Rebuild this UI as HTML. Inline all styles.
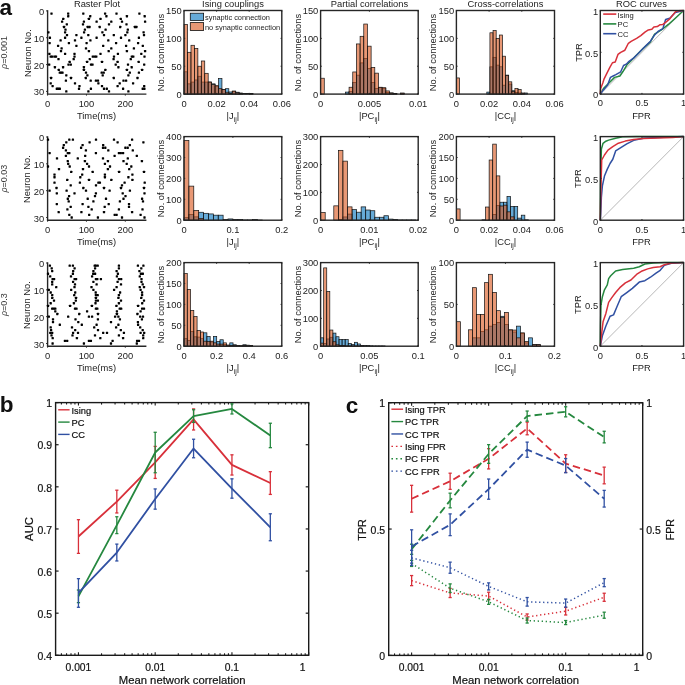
<!DOCTYPE html>
<html><head><meta charset="utf-8"><style>
html,body{margin:0;padding:0;background:#fff;width:685px;height:685px;overflow:hidden}
svg{display:block;font-family:"Liberation Sans",sans-serif;will-change:transform}
</style></head><body>
<svg width="685" height="685" viewBox="0 0 685 685">
<rect width="685" height="685" fill="#fff"/>
<text x="97.00" y="7.00" font-size="9.35" text-anchor="middle" fill="#222">Raster Plot</text>
<text x="233.00" y="7.00" font-size="9.35" text-anchor="middle" fill="#222">Ising couplings</text>
<text x="369.50" y="7.00" font-size="9.35" text-anchor="middle" fill="#222">Partial correlations</text>
<text x="505.50" y="7.00" font-size="9.35" text-anchor="middle" fill="#222">Cross-correlations</text>
<text x="641.50" y="7.00" font-size="9.35" text-anchor="middle" fill="#222">ROC curves</text>
<text x="-0.60" y="15.30" font-size="22.5" text-anchor="start" fill="#111" font-weight="bold">a</text>
<text x="-0.30" y="411.60" font-size="22.5" text-anchor="start" fill="#111" font-weight="bold">b</text>
<text x="345.80" y="412.50" font-size="22.5" text-anchor="start" fill="#111" font-weight="bold">c</text>
<text x="7.0" y="52.50" font-size="9" text-anchor="middle" fill="#3a3a3a" transform="rotate(-90 7.0 52.50)"><tspan font-style="italic">ρ</tspan>=0.001</text>
<line x1="47.60" y1="10.20" x2="47.60" y2="94.10" stroke="#262626" stroke-width="1.4"/>
<line x1="46.90" y1="94.10" x2="146.40" y2="94.10" stroke="#262626" stroke-width="1.4"/>
<line x1="46.10" y1="10.90" x2="47.60" y2="10.90" stroke="#262626" stroke-width="1"/>
<text x="44.10" y="14.90" font-size="9.35" text-anchor="end" fill="#222">0</text>
<line x1="46.10" y1="37.74" x2="47.60" y2="37.74" stroke="#262626" stroke-width="1"/>
<text x="44.10" y="41.74" font-size="9.35" text-anchor="end" fill="#222">10</text>
<line x1="46.10" y1="64.58" x2="47.60" y2="64.58" stroke="#262626" stroke-width="1"/>
<text x="44.10" y="68.58" font-size="9.35" text-anchor="end" fill="#222">20</text>
<line x1="46.10" y1="91.42" x2="47.60" y2="91.42" stroke="#262626" stroke-width="1"/>
<text x="44.10" y="95.42" font-size="9.35" text-anchor="end" fill="#222">30</text>
<line x1="47.60" y1="94.10" x2="47.60" y2="95.60" stroke="#262626" stroke-width="1"/>
<text x="47.60" y="107.30" font-size="9.35" text-anchor="middle" fill="#222">0</text>
<line x1="86.45" y1="94.10" x2="86.45" y2="95.60" stroke="#262626" stroke-width="1"/>
<text x="86.45" y="107.30" font-size="9.35" text-anchor="middle" fill="#222">100</text>
<line x1="125.30" y1="94.10" x2="125.30" y2="95.60" stroke="#262626" stroke-width="1"/>
<text x="125.30" y="107.30" font-size="9.35" text-anchor="middle" fill="#222">200</text>
<text x="96.50" y="118.90" font-size="9.35" text-anchor="middle" fill="#222">Time(ms)</text>
<text x="30.50" y="53.00" font-size="9.35" text-anchor="middle" fill="#222" transform="rotate(-90 30.5 53.0)">Neuron No.</text>
<rect x="50.35" y="12.43" width="2.3" height="2.3" rx="0.4" fill="#000"/>
<rect x="67.05" y="12.43" width="2.3" height="2.3" rx="0.4" fill="#000"/>
<rect x="67.05" y="15.12" width="2.3" height="2.3" rx="0.4" fill="#000"/>
<rect x="82.15" y="12.43" width="2.3" height="2.3" rx="0.4" fill="#000"/>
<rect x="89.05" y="15.12" width="2.3" height="2.3" rx="0.4" fill="#000"/>
<rect x="62.05" y="17.80" width="2.3" height="2.3" rx="0.4" fill="#000"/>
<rect x="87.75" y="17.80" width="2.3" height="2.3" rx="0.4" fill="#000"/>
<rect x="60.95" y="20.49" width="2.3" height="2.3" rx="0.4" fill="#000"/>
<rect x="82.75" y="20.49" width="2.3" height="2.3" rx="0.4" fill="#000"/>
<rect x="95.45" y="20.49" width="2.3" height="2.3" rx="0.4" fill="#000"/>
<rect x="65.65" y="23.17" width="2.3" height="2.3" rx="0.4" fill="#000"/>
<rect x="81.85" y="23.17" width="2.3" height="2.3" rx="0.4" fill="#000"/>
<rect x="62.85" y="25.85" width="2.3" height="2.3" rx="0.4" fill="#000"/>
<rect x="86.55" y="25.85" width="2.3" height="2.3" rx="0.4" fill="#000"/>
<rect x="88.35" y="25.85" width="2.3" height="2.3" rx="0.4" fill="#000"/>
<rect x="64.35" y="28.54" width="2.3" height="2.3" rx="0.4" fill="#000"/>
<rect x="83.75" y="28.54" width="2.3" height="2.3" rx="0.4" fill="#000"/>
<rect x="47.25" y="31.22" width="2.3" height="2.3" rx="0.4" fill="#000"/>
<rect x="63.95" y="31.22" width="2.3" height="2.3" rx="0.4" fill="#000"/>
<rect x="82.95" y="31.22" width="2.3" height="2.3" rx="0.4" fill="#000"/>
<rect x="65.85" y="33.90" width="2.3" height="2.3" rx="0.4" fill="#000"/>
<rect x="75.25" y="33.90" width="2.3" height="2.3" rx="0.4" fill="#000"/>
<rect x="87.15" y="33.90" width="2.3" height="2.3" rx="0.4" fill="#000"/>
<rect x="48.75" y="36.59" width="2.3" height="2.3" rx="0.4" fill="#000"/>
<rect x="63.95" y="36.59" width="2.3" height="2.3" rx="0.4" fill="#000"/>
<rect x="80.25" y="36.59" width="2.3" height="2.3" rx="0.4" fill="#000"/>
<rect x="95.45" y="36.59" width="2.3" height="2.3" rx="0.4" fill="#000"/>
<rect x="59.45" y="39.27" width="2.3" height="2.3" rx="0.4" fill="#000"/>
<rect x="73.85" y="39.27" width="2.3" height="2.3" rx="0.4" fill="#000"/>
<rect x="89.25" y="39.27" width="2.3" height="2.3" rx="0.4" fill="#000"/>
<rect x="48.45" y="41.96" width="2.3" height="2.3" rx="0.4" fill="#000"/>
<rect x="67.75" y="41.96" width="2.3" height="2.3" rx="0.4" fill="#000"/>
<rect x="85.45" y="41.96" width="2.3" height="2.3" rx="0.4" fill="#000"/>
<rect x="56.95" y="44.64" width="2.3" height="2.3" rx="0.4" fill="#000"/>
<rect x="75.25" y="44.64" width="2.3" height="2.3" rx="0.4" fill="#000"/>
<rect x="60.45" y="47.32" width="2.3" height="2.3" rx="0.4" fill="#000"/>
<rect x="84.85" y="47.32" width="2.3" height="2.3" rx="0.4" fill="#000"/>
<rect x="59.85" y="50.01" width="2.3" height="2.3" rx="0.4" fill="#000"/>
<rect x="87.75" y="50.01" width="2.3" height="2.3" rx="0.4" fill="#000"/>
<rect x="103.95" y="12.43" width="2.3" height="2.3" rx="0.4" fill="#000"/>
<rect x="115.35" y="12.43" width="2.3" height="2.3" rx="0.4" fill="#000"/>
<rect x="138.25" y="12.43" width="2.3" height="2.3" rx="0.4" fill="#000"/>
<rect x="105.25" y="15.12" width="2.3" height="2.3" rx="0.4" fill="#000"/>
<rect x="125.75" y="15.12" width="2.3" height="2.3" rx="0.4" fill="#000"/>
<rect x="143.55" y="15.12" width="2.3" height="2.3" rx="0.4" fill="#000"/>
<rect x="99.35" y="17.80" width="2.3" height="2.3" rx="0.4" fill="#000"/>
<rect x="119.65" y="17.80" width="2.3" height="2.3" rx="0.4" fill="#000"/>
<rect x="110.15" y="20.49" width="2.3" height="2.3" rx="0.4" fill="#000"/>
<rect x="120.85" y="20.49" width="2.3" height="2.3" rx="0.4" fill="#000"/>
<rect x="143.95" y="20.49" width="2.3" height="2.3" rx="0.4" fill="#000"/>
<rect x="107.85" y="23.17" width="2.3" height="2.3" rx="0.4" fill="#000"/>
<rect x="125.35" y="23.17" width="2.3" height="2.3" rx="0.4" fill="#000"/>
<rect x="98.55" y="25.85" width="2.3" height="2.3" rx="0.4" fill="#000"/>
<rect x="119.05" y="25.85" width="2.3" height="2.3" rx="0.4" fill="#000"/>
<rect x="133.75" y="25.85" width="2.3" height="2.3" rx="0.4" fill="#000"/>
<rect x="135.25" y="25.85" width="2.3" height="2.3" rx="0.4" fill="#000"/>
<rect x="104.45" y="28.54" width="2.3" height="2.3" rx="0.4" fill="#000"/>
<rect x="126.65" y="28.54" width="2.3" height="2.3" rx="0.4" fill="#000"/>
<rect x="101.25" y="31.22" width="2.3" height="2.3" rx="0.4" fill="#000"/>
<rect x="126.15" y="31.22" width="2.3" height="2.3" rx="0.4" fill="#000"/>
<rect x="142.45" y="31.22" width="2.3" height="2.3" rx="0.4" fill="#000"/>
<rect x="102.85" y="33.90" width="2.3" height="2.3" rx="0.4" fill="#000"/>
<rect x="112.65" y="33.90" width="2.3" height="2.3" rx="0.4" fill="#000"/>
<rect x="124.25" y="33.90" width="2.3" height="2.3" rx="0.4" fill="#000"/>
<rect x="142.85" y="33.90" width="2.3" height="2.3" rx="0.4" fill="#000"/>
<rect x="119.85" y="36.59" width="2.3" height="2.3" rx="0.4" fill="#000"/>
<rect x="137.75" y="36.59" width="2.3" height="2.3" rx="0.4" fill="#000"/>
<rect x="107.15" y="39.27" width="2.3" height="2.3" rx="0.4" fill="#000"/>
<rect x="128.05" y="39.27" width="2.3" height="2.3" rx="0.4" fill="#000"/>
<rect x="114.95" y="41.96" width="2.3" height="2.3" rx="0.4" fill="#000"/>
<rect x="136.95" y="41.96" width="2.3" height="2.3" rx="0.4" fill="#000"/>
<rect x="102.05" y="44.64" width="2.3" height="2.3" rx="0.4" fill="#000"/>
<rect x="124.95" y="44.64" width="2.3" height="2.3" rx="0.4" fill="#000"/>
<rect x="141.65" y="44.64" width="2.3" height="2.3" rx="0.4" fill="#000"/>
<rect x="110.15" y="47.32" width="2.3" height="2.3" rx="0.4" fill="#000"/>
<rect x="132.75" y="47.32" width="2.3" height="2.3" rx="0.4" fill="#000"/>
<rect x="107.55" y="50.01" width="2.3" height="2.3" rx="0.4" fill="#000"/>
<rect x="125.75" y="50.01" width="2.3" height="2.3" rx="0.4" fill="#000"/>
<rect x="143.95" y="50.01" width="2.3" height="2.3" rx="0.4" fill="#000"/>
<rect x="48.25" y="52.69" width="2.3" height="2.3" rx="0.4" fill="#000"/>
<rect x="63.95" y="52.69" width="2.3" height="2.3" rx="0.4" fill="#000"/>
<rect x="73.35" y="52.69" width="2.3" height="2.3" rx="0.4" fill="#000"/>
<rect x="49.55" y="55.38" width="2.3" height="2.3" rx="0.4" fill="#000"/>
<rect x="51.05" y="55.38" width="2.3" height="2.3" rx="0.4" fill="#000"/>
<rect x="53.35" y="55.38" width="2.3" height="2.3" rx="0.4" fill="#000"/>
<rect x="54.85" y="55.38" width="2.3" height="2.3" rx="0.4" fill="#000"/>
<rect x="73.35" y="55.38" width="2.3" height="2.3" rx="0.4" fill="#000"/>
<rect x="91.65" y="55.38" width="2.3" height="2.3" rx="0.4" fill="#000"/>
<rect x="93.55" y="55.38" width="2.3" height="2.3" rx="0.4" fill="#000"/>
<rect x="95.15" y="55.38" width="2.3" height="2.3" rx="0.4" fill="#000"/>
<rect x="57.35" y="58.06" width="2.3" height="2.3" rx="0.4" fill="#000"/>
<rect x="72.55" y="58.06" width="2.3" height="2.3" rx="0.4" fill="#000"/>
<rect x="88.65" y="58.06" width="2.3" height="2.3" rx="0.4" fill="#000"/>
<rect x="68.55" y="60.74" width="2.3" height="2.3" rx="0.4" fill="#000"/>
<rect x="85.95" y="60.74" width="2.3" height="2.3" rx="0.4" fill="#000"/>
<rect x="48.05" y="63.43" width="2.3" height="2.3" rx="0.4" fill="#000"/>
<rect x="67.35" y="63.43" width="2.3" height="2.3" rx="0.4" fill="#000"/>
<rect x="69.65" y="63.43" width="2.3" height="2.3" rx="0.4" fill="#000"/>
<rect x="89.85" y="63.43" width="2.3" height="2.3" rx="0.4" fill="#000"/>
<rect x="91.35" y="63.43" width="2.3" height="2.3" rx="0.4" fill="#000"/>
<rect x="53.75" y="66.11" width="2.3" height="2.3" rx="0.4" fill="#000"/>
<rect x="61.95" y="66.11" width="2.3" height="2.3" rx="0.4" fill="#000"/>
<rect x="82.75" y="66.11" width="2.3" height="2.3" rx="0.4" fill="#000"/>
<rect x="57.65" y="68.80" width="2.3" height="2.3" rx="0.4" fill="#000"/>
<rect x="82.75" y="68.80" width="2.3" height="2.3" rx="0.4" fill="#000"/>
<rect x="58.65" y="71.48" width="2.3" height="2.3" rx="0.4" fill="#000"/>
<rect x="60.15" y="71.48" width="2.3" height="2.3" rx="0.4" fill="#000"/>
<rect x="61.35" y="71.48" width="2.3" height="2.3" rx="0.4" fill="#000"/>
<rect x="84.85" y="71.48" width="2.3" height="2.3" rx="0.4" fill="#000"/>
<rect x="65.15" y="74.16" width="2.3" height="2.3" rx="0.4" fill="#000"/>
<rect x="86.25" y="74.16" width="2.3" height="2.3" rx="0.4" fill="#000"/>
<rect x="49.95" y="76.85" width="2.3" height="2.3" rx="0.4" fill="#000"/>
<rect x="69.85" y="76.85" width="2.3" height="2.3" rx="0.4" fill="#000"/>
<rect x="84.65" y="76.85" width="2.3" height="2.3" rx="0.4" fill="#000"/>
<rect x="64.75" y="79.53" width="2.3" height="2.3" rx="0.4" fill="#000"/>
<rect x="89.55" y="79.53" width="2.3" height="2.3" rx="0.4" fill="#000"/>
<rect x="94.75" y="79.53" width="2.3" height="2.3" rx="0.4" fill="#000"/>
<rect x="49.55" y="82.21" width="2.3" height="2.3" rx="0.4" fill="#000"/>
<rect x="73.85" y="82.21" width="2.3" height="2.3" rx="0.4" fill="#000"/>
<rect x="51.45" y="84.90" width="2.3" height="2.3" rx="0.4" fill="#000"/>
<rect x="78.35" y="84.90" width="2.3" height="2.3" rx="0.4" fill="#000"/>
<rect x="55.65" y="87.58" width="2.3" height="2.3" rx="0.4" fill="#000"/>
<rect x="57.15" y="87.58" width="2.3" height="2.3" rx="0.4" fill="#000"/>
<rect x="58.65" y="87.58" width="2.3" height="2.3" rx="0.4" fill="#000"/>
<rect x="77.85" y="87.58" width="2.3" height="2.3" rx="0.4" fill="#000"/>
<rect x="89.75" y="87.58" width="2.3" height="2.3" rx="0.4" fill="#000"/>
<rect x="65.15" y="90.27" width="2.3" height="2.3" rx="0.4" fill="#000"/>
<rect x="87.25" y="90.27" width="2.3" height="2.3" rx="0.4" fill="#000"/>
<rect x="99.35" y="52.69" width="2.3" height="2.3" rx="0.4" fill="#000"/>
<rect x="116.75" y="52.69" width="2.3" height="2.3" rx="0.4" fill="#000"/>
<rect x="140.15" y="52.69" width="2.3" height="2.3" rx="0.4" fill="#000"/>
<rect x="112.85" y="55.38" width="2.3" height="2.3" rx="0.4" fill="#000"/>
<rect x="130.65" y="55.38" width="2.3" height="2.3" rx="0.4" fill="#000"/>
<rect x="132.15" y="55.38" width="2.3" height="2.3" rx="0.4" fill="#000"/>
<rect x="143.35" y="55.38" width="2.3" height="2.3" rx="0.4" fill="#000"/>
<rect x="112.45" y="58.06" width="2.3" height="2.3" rx="0.4" fill="#000"/>
<rect x="129.65" y="58.06" width="2.3" height="2.3" rx="0.4" fill="#000"/>
<rect x="100.85" y="60.74" width="2.3" height="2.3" rx="0.4" fill="#000"/>
<rect x="116.45" y="60.74" width="2.3" height="2.3" rx="0.4" fill="#000"/>
<rect x="137.55" y="60.74" width="2.3" height="2.3" rx="0.4" fill="#000"/>
<rect x="114.55" y="63.43" width="2.3" height="2.3" rx="0.4" fill="#000"/>
<rect x="126.85" y="63.43" width="2.3" height="2.3" rx="0.4" fill="#000"/>
<rect x="143.05" y="63.43" width="2.3" height="2.3" rx="0.4" fill="#000"/>
<rect x="117.25" y="66.11" width="2.3" height="2.3" rx="0.4" fill="#000"/>
<rect x="130.55" y="66.11" width="2.3" height="2.3" rx="0.4" fill="#000"/>
<rect x="104.15" y="68.80" width="2.3" height="2.3" rx="0.4" fill="#000"/>
<rect x="125.75" y="68.80" width="2.3" height="2.3" rx="0.4" fill="#000"/>
<rect x="140.95" y="68.80" width="2.3" height="2.3" rx="0.4" fill="#000"/>
<rect x="100.55" y="71.48" width="2.3" height="2.3" rx="0.4" fill="#000"/>
<rect x="102.55" y="71.48" width="2.3" height="2.3" rx="0.4" fill="#000"/>
<rect x="128.65" y="71.48" width="2.3" height="2.3" rx="0.4" fill="#000"/>
<rect x="137.75" y="71.48" width="2.3" height="2.3" rx="0.4" fill="#000"/>
<rect x="101.55" y="74.16" width="2.3" height="2.3" rx="0.4" fill="#000"/>
<rect x="127.25" y="74.16" width="2.3" height="2.3" rx="0.4" fill="#000"/>
<rect x="112.65" y="76.85" width="2.3" height="2.3" rx="0.4" fill="#000"/>
<rect x="136.35" y="76.85" width="2.3" height="2.3" rx="0.4" fill="#000"/>
<rect x="96.85" y="79.53" width="2.3" height="2.3" rx="0.4" fill="#000"/>
<rect x="122.35" y="79.53" width="2.3" height="2.3" rx="0.4" fill="#000"/>
<rect x="124.95" y="79.53" width="2.3" height="2.3" rx="0.4" fill="#000"/>
<rect x="97.25" y="82.21" width="2.3" height="2.3" rx="0.4" fill="#000"/>
<rect x="118.55" y="82.21" width="2.3" height="2.3" rx="0.4" fill="#000"/>
<rect x="131.95" y="82.21" width="2.3" height="2.3" rx="0.4" fill="#000"/>
<rect x="100.85" y="84.90" width="2.3" height="2.3" rx="0.4" fill="#000"/>
<rect x="116.45" y="84.90" width="2.3" height="2.3" rx="0.4" fill="#000"/>
<rect x="143.05" y="84.90" width="2.3" height="2.3" rx="0.4" fill="#000"/>
<rect x="102.85" y="87.58" width="2.3" height="2.3" rx="0.4" fill="#000"/>
<rect x="105.65" y="87.58" width="2.3" height="2.3" rx="0.4" fill="#000"/>
<rect x="121.95" y="87.58" width="2.3" height="2.3" rx="0.4" fill="#000"/>
<rect x="141.55" y="87.58" width="2.3" height="2.3" rx="0.4" fill="#000"/>
<rect x="143.25" y="87.58" width="2.3" height="2.3" rx="0.4" fill="#000"/>
<rect x="107.85" y="90.27" width="2.3" height="2.3" rx="0.4" fill="#000"/>
<rect x="127.25" y="90.27" width="2.3" height="2.3" rx="0.4" fill="#000"/>
<line x1="600.30" y1="94.10" x2="683.60" y2="10.50" stroke="#999" stroke-width="0.7"/>
<polyline points="600.30,94.10 603.47,88.50 608.96,82.98 614.54,77.38 620.04,75.96 622.79,71.78 626.96,64.84 631.12,60.66 636.62,55.06 643.53,48.12 650.45,41.85 654.61,34.16 661.44,29.98 668.36,24.46 675.27,18.19 683.60,10.50" fill="none" stroke="#25883f" stroke-width="1.5" stroke-linejoin="round"/>
<polyline points="600.30,94.10 603.47,89.92 607.63,85.07 610.38,77.38 613.13,75.96 615.88,74.62 620.71,71.78 623.54,65.51 626.29,64.17 629.04,61.33 633.87,57.90 638.03,53.72 642.12,49.54 646.28,45.36 650.45,41.18 654.61,34.91 658.03,31.40 662.86,28.64 665.61,19.53 669.77,18.19 675.27,12.59 683.60,10.50" fill="none" stroke="#3050a2" stroke-width="1.5" stroke-linejoin="round"/>
<polyline points="600.30,94.10 600.72,88.50 602.80,82.98 604.13,78.80 606.96,73.20 609.71,67.60 612.46,62.75 615.21,62.08 617.96,54.39 620.71,52.30 624.87,50.21 628.37,43.27 631.12,41.43 636.62,38.34 640.78,35.58 644.95,32.07 648.36,29.98 651.86,29.31 653.86,26.97 657.36,26.55 660.11,24.71 662.86,24.46 665.61,22.37 669.77,18.86 675.27,11.92 678.10,10.75 683.60,10.50" fill="none" stroke="#d8303a" stroke-width="1.5" stroke-linejoin="round"/>
<rect x="600.30" y="10.50" width="83.30" height="83.60" fill="none" stroke="#262626" stroke-width="1.4"/>
<line x1="600.30" y1="94.10" x2="601.50" y2="94.10" stroke="#262626" stroke-width="1"/>
<line x1="682.40" y1="94.10" x2="683.60" y2="94.10" stroke="#262626" stroke-width="1"/>
<line x1="600.30" y1="94.10" x2="600.30" y2="92.90" stroke="#262626" stroke-width="1"/>
<line x1="600.30" y1="10.50" x2="600.30" y2="11.70" stroke="#262626" stroke-width="1"/>
<text x="598.10" y="98.40" font-size="9.35" text-anchor="end" fill="#222">0</text>
<text x="600.30" y="106.40" font-size="9.35" text-anchor="middle" fill="#222">0</text>
<line x1="600.30" y1="52.30" x2="601.50" y2="52.30" stroke="#262626" stroke-width="1"/>
<line x1="682.40" y1="52.30" x2="683.60" y2="52.30" stroke="#262626" stroke-width="1"/>
<line x1="641.95" y1="94.10" x2="641.95" y2="92.90" stroke="#262626" stroke-width="1"/>
<line x1="641.95" y1="10.50" x2="641.95" y2="11.70" stroke="#262626" stroke-width="1"/>
<text x="598.10" y="56.60" font-size="9.35" text-anchor="end" fill="#222">0.5</text>
<text x="641.95" y="106.40" font-size="9.35" text-anchor="middle" fill="#222">0.5</text>
<line x1="600.30" y1="10.50" x2="601.50" y2="10.50" stroke="#262626" stroke-width="1"/>
<line x1="682.40" y1="10.50" x2="683.60" y2="10.50" stroke="#262626" stroke-width="1"/>
<line x1="683.60" y1="94.10" x2="683.60" y2="92.90" stroke="#262626" stroke-width="1"/>
<line x1="683.60" y1="10.50" x2="683.60" y2="11.70" stroke="#262626" stroke-width="1"/>
<text x="598.10" y="14.80" font-size="9.35" text-anchor="end" fill="#222">1</text>
<text x="683.60" y="106.40" font-size="9.35" text-anchor="middle" fill="#222">1</text>
<text x="641.50" y="118.60" font-size="9.35" text-anchor="middle" fill="#222">FPR</text>
<text x="581.50" y="52.50" font-size="9.35" text-anchor="middle" fill="#222" transform="rotate(-90 581.5 52.5)">TPR</text>
<line x1="603.20" y1="14.10" x2="616.30" y2="14.10" stroke="#d8303a" stroke-width="1.6"/>
<text x="617.60" y="17.50" font-size="7.6" text-anchor="start" fill="#222">Ising</text>
<line x1="603.20" y1="23.90" x2="616.30" y2="23.90" stroke="#25883f" stroke-width="1.6"/>
<text x="617.60" y="27.30" font-size="7.6" text-anchor="start" fill="#222">PC</text>
<line x1="603.20" y1="33.70" x2="616.30" y2="33.70" stroke="#3050a2" stroke-width="1.6"/>
<text x="617.60" y="37.10" font-size="7.6" text-anchor="start" fill="#222">CC</text>
<text x="7.0" y="178.60" font-size="9" text-anchor="middle" fill="#3a3a3a" transform="rotate(-90 7.0 178.60)"><tspan font-style="italic">ρ</tspan>=0.03</text>
<line x1="47.60" y1="136.30" x2="47.60" y2="220.20" stroke="#262626" stroke-width="1.4"/>
<line x1="46.90" y1="220.20" x2="146.40" y2="220.20" stroke="#262626" stroke-width="1.4"/>
<line x1="46.10" y1="137.00" x2="47.60" y2="137.00" stroke="#262626" stroke-width="1"/>
<text x="44.10" y="141.00" font-size="9.35" text-anchor="end" fill="#222">0</text>
<line x1="46.10" y1="163.84" x2="47.60" y2="163.84" stroke="#262626" stroke-width="1"/>
<text x="44.10" y="167.84" font-size="9.35" text-anchor="end" fill="#222">10</text>
<line x1="46.10" y1="190.68" x2="47.60" y2="190.68" stroke="#262626" stroke-width="1"/>
<text x="44.10" y="194.68" font-size="9.35" text-anchor="end" fill="#222">20</text>
<line x1="46.10" y1="217.52" x2="47.60" y2="217.52" stroke="#262626" stroke-width="1"/>
<text x="44.10" y="221.52" font-size="9.35" text-anchor="end" fill="#222">30</text>
<line x1="47.60" y1="220.20" x2="47.60" y2="221.70" stroke="#262626" stroke-width="1"/>
<text x="47.60" y="233.40" font-size="9.35" text-anchor="middle" fill="#222">0</text>
<line x1="86.45" y1="220.20" x2="86.45" y2="221.70" stroke="#262626" stroke-width="1"/>
<text x="86.45" y="233.40" font-size="9.35" text-anchor="middle" fill="#222">100</text>
<line x1="125.30" y1="220.20" x2="125.30" y2="221.70" stroke="#262626" stroke-width="1"/>
<text x="125.30" y="233.40" font-size="9.35" text-anchor="middle" fill="#222">200</text>
<text x="96.50" y="245.00" font-size="9.35" text-anchor="middle" fill="#222">Time(ms)</text>
<text x="30.50" y="179.10" font-size="9.35" text-anchor="middle" fill="#222" transform="rotate(-90 30.5 179.1)">Neuron No.</text>
<rect x="46.85" y="138.53" width="2.3" height="2.3" rx="0.4" fill="#000"/>
<rect x="68.15" y="138.53" width="2.3" height="2.3" rx="0.4" fill="#000"/>
<rect x="71.75" y="138.53" width="2.3" height="2.3" rx="0.4" fill="#000"/>
<rect x="94.85" y="138.53" width="2.3" height="2.3" rx="0.4" fill="#000"/>
<rect x="65.15" y="141.22" width="2.3" height="2.3" rx="0.4" fill="#000"/>
<rect x="88.45" y="141.22" width="2.3" height="2.3" rx="0.4" fill="#000"/>
<rect x="62.65" y="143.90" width="2.3" height="2.3" rx="0.4" fill="#000"/>
<rect x="81.45" y="143.90" width="2.3" height="2.3" rx="0.4" fill="#000"/>
<rect x="61.95" y="146.59" width="2.3" height="2.3" rx="0.4" fill="#000"/>
<rect x="79.95" y="146.59" width="2.3" height="2.3" rx="0.4" fill="#000"/>
<rect x="64.75" y="149.27" width="2.3" height="2.3" rx="0.4" fill="#000"/>
<rect x="84.75" y="149.27" width="2.3" height="2.3" rx="0.4" fill="#000"/>
<rect x="48.45" y="151.95" width="2.3" height="2.3" rx="0.4" fill="#000"/>
<rect x="66.65" y="151.95" width="2.3" height="2.3" rx="0.4" fill="#000"/>
<rect x="68.15" y="151.95" width="2.3" height="2.3" rx="0.4" fill="#000"/>
<rect x="94.75" y="151.95" width="2.3" height="2.3" rx="0.4" fill="#000"/>
<rect x="64.75" y="154.64" width="2.3" height="2.3" rx="0.4" fill="#000"/>
<rect x="84.05" y="154.64" width="2.3" height="2.3" rx="0.4" fill="#000"/>
<rect x="55.85" y="157.32" width="2.3" height="2.3" rx="0.4" fill="#000"/>
<rect x="76.65" y="157.32" width="2.3" height="2.3" rx="0.4" fill="#000"/>
<rect x="66.65" y="160.00" width="2.3" height="2.3" rx="0.4" fill="#000"/>
<rect x="83.75" y="160.00" width="2.3" height="2.3" rx="0.4" fill="#000"/>
<rect x="67.05" y="162.69" width="2.3" height="2.3" rx="0.4" fill="#000"/>
<rect x="85.95" y="162.69" width="2.3" height="2.3" rx="0.4" fill="#000"/>
<rect x="46.85" y="165.37" width="2.3" height="2.3" rx="0.4" fill="#000"/>
<rect x="68.55" y="165.37" width="2.3" height="2.3" rx="0.4" fill="#000"/>
<rect x="87.85" y="165.37" width="2.3" height="2.3" rx="0.4" fill="#000"/>
<rect x="57.85" y="168.06" width="2.3" height="2.3" rx="0.4" fill="#000"/>
<rect x="81.85" y="168.06" width="2.3" height="2.3" rx="0.4" fill="#000"/>
<rect x="70.05" y="170.74" width="2.3" height="2.3" rx="0.4" fill="#000"/>
<rect x="91.55" y="170.74" width="2.3" height="2.3" rx="0.4" fill="#000"/>
<rect x="53.35" y="173.42" width="2.3" height="2.3" rx="0.4" fill="#000"/>
<rect x="81.05" y="173.42" width="2.3" height="2.3" rx="0.4" fill="#000"/>
<rect x="53.35" y="176.11" width="2.3" height="2.3" rx="0.4" fill="#000"/>
<rect x="79.15" y="176.11" width="2.3" height="2.3" rx="0.4" fill="#000"/>
<rect x="112.85" y="138.53" width="2.3" height="2.3" rx="0.4" fill="#000"/>
<rect x="130.95" y="138.53" width="2.3" height="2.3" rx="0.4" fill="#000"/>
<rect x="116.45" y="141.22" width="2.3" height="2.3" rx="0.4" fill="#000"/>
<rect x="142.25" y="141.22" width="2.3" height="2.3" rx="0.4" fill="#000"/>
<rect x="102.05" y="143.90" width="2.3" height="2.3" rx="0.4" fill="#000"/>
<rect x="128.65" y="143.90" width="2.3" height="2.3" rx="0.4" fill="#000"/>
<rect x="101.85" y="146.59" width="2.3" height="2.3" rx="0.4" fill="#000"/>
<rect x="104.15" y="146.59" width="2.3" height="2.3" rx="0.4" fill="#000"/>
<rect x="124.25" y="146.59" width="2.3" height="2.3" rx="0.4" fill="#000"/>
<rect x="126.55" y="146.59" width="2.3" height="2.3" rx="0.4" fill="#000"/>
<rect x="107.15" y="149.27" width="2.3" height="2.3" rx="0.4" fill="#000"/>
<rect x="131.65" y="149.27" width="2.3" height="2.3" rx="0.4" fill="#000"/>
<rect x="117.75" y="151.95" width="2.3" height="2.3" rx="0.4" fill="#000"/>
<rect x="119.65" y="151.95" width="2.3" height="2.3" rx="0.4" fill="#000"/>
<rect x="121.95" y="151.95" width="2.3" height="2.3" rx="0.4" fill="#000"/>
<rect x="113.45" y="154.64" width="2.3" height="2.3" rx="0.4" fill="#000"/>
<rect x="135.65" y="154.64" width="2.3" height="2.3" rx="0.4" fill="#000"/>
<rect x="101.85" y="157.32" width="2.3" height="2.3" rx="0.4" fill="#000"/>
<rect x="126.65" y="157.32" width="2.3" height="2.3" rx="0.4" fill="#000"/>
<rect x="106.75" y="160.00" width="2.3" height="2.3" rx="0.4" fill="#000"/>
<rect x="122.35" y="160.00" width="2.3" height="2.3" rx="0.4" fill="#000"/>
<rect x="140.75" y="160.00" width="2.3" height="2.3" rx="0.4" fill="#000"/>
<rect x="103.75" y="162.69" width="2.3" height="2.3" rx="0.4" fill="#000"/>
<rect x="125.55" y="162.69" width="2.3" height="2.3" rx="0.4" fill="#000"/>
<rect x="108.85" y="165.37" width="2.3" height="2.3" rx="0.4" fill="#000"/>
<rect x="130.15" y="165.37" width="2.3" height="2.3" rx="0.4" fill="#000"/>
<rect x="106.75" y="168.06" width="2.3" height="2.3" rx="0.4" fill="#000"/>
<rect x="128.05" y="168.06" width="2.3" height="2.3" rx="0.4" fill="#000"/>
<rect x="117.95" y="170.74" width="2.3" height="2.3" rx="0.4" fill="#000"/>
<rect x="142.85" y="170.74" width="2.3" height="2.3" rx="0.4" fill="#000"/>
<rect x="103.75" y="173.42" width="2.3" height="2.3" rx="0.4" fill="#000"/>
<rect x="131.25" y="173.42" width="2.3" height="2.3" rx="0.4" fill="#000"/>
<rect x="103.75" y="176.11" width="2.3" height="2.3" rx="0.4" fill="#000"/>
<rect x="127.25" y="176.11" width="2.3" height="2.3" rx="0.4" fill="#000"/>
<rect x="66.05" y="178.79" width="2.3" height="2.3" rx="0.4" fill="#000"/>
<rect x="87.85" y="178.79" width="2.3" height="2.3" rx="0.4" fill="#000"/>
<rect x="53.35" y="181.48" width="2.3" height="2.3" rx="0.4" fill="#000"/>
<rect x="78.75" y="181.48" width="2.3" height="2.3" rx="0.4" fill="#000"/>
<rect x="69.55" y="184.16" width="2.3" height="2.3" rx="0.4" fill="#000"/>
<rect x="94.85" y="184.16" width="2.3" height="2.3" rx="0.4" fill="#000"/>
<rect x="55.35" y="186.84" width="2.3" height="2.3" rx="0.4" fill="#000"/>
<rect x="82.15" y="186.84" width="2.3" height="2.3" rx="0.4" fill="#000"/>
<rect x="48.45" y="189.53" width="2.3" height="2.3" rx="0.4" fill="#000"/>
<rect x="65.45" y="189.53" width="2.3" height="2.3" rx="0.4" fill="#000"/>
<rect x="84.85" y="189.53" width="2.3" height="2.3" rx="0.4" fill="#000"/>
<rect x="55.65" y="192.21" width="2.3" height="2.3" rx="0.4" fill="#000"/>
<rect x="73.35" y="192.21" width="2.3" height="2.3" rx="0.4" fill="#000"/>
<rect x="94.75" y="192.21" width="2.3" height="2.3" rx="0.4" fill="#000"/>
<rect x="67.95" y="194.90" width="2.3" height="2.3" rx="0.4" fill="#000"/>
<rect x="93.85" y="194.90" width="2.3" height="2.3" rx="0.4" fill="#000"/>
<rect x="66.65" y="197.58" width="2.3" height="2.3" rx="0.4" fill="#000"/>
<rect x="86.55" y="197.58" width="2.3" height="2.3" rx="0.4" fill="#000"/>
<rect x="67.55" y="200.26" width="2.3" height="2.3" rx="0.4" fill="#000"/>
<rect x="92.25" y="200.26" width="2.3" height="2.3" rx="0.4" fill="#000"/>
<rect x="55.65" y="202.95" width="2.3" height="2.3" rx="0.4" fill="#000"/>
<rect x="81.45" y="202.95" width="2.3" height="2.3" rx="0.4" fill="#000"/>
<rect x="69.55" y="205.63" width="2.3" height="2.3" rx="0.4" fill="#000"/>
<rect x="87.25" y="205.63" width="2.3" height="2.3" rx="0.4" fill="#000"/>
<rect x="66.25" y="208.31" width="2.3" height="2.3" rx="0.4" fill="#000"/>
<rect x="90.55" y="208.31" width="2.3" height="2.3" rx="0.4" fill="#000"/>
<rect x="57.55" y="211.00" width="2.3" height="2.3" rx="0.4" fill="#000"/>
<rect x="80.25" y="211.00" width="2.3" height="2.3" rx="0.4" fill="#000"/>
<rect x="68.15" y="213.68" width="2.3" height="2.3" rx="0.4" fill="#000"/>
<rect x="88.05" y="213.68" width="2.3" height="2.3" rx="0.4" fill="#000"/>
<rect x="70.55" y="216.37" width="2.3" height="2.3" rx="0.4" fill="#000"/>
<rect x="110.15" y="178.79" width="2.3" height="2.3" rx="0.4" fill="#000"/>
<rect x="131.25" y="178.79" width="2.3" height="2.3" rx="0.4" fill="#000"/>
<rect x="97.25" y="181.48" width="2.3" height="2.3" rx="0.4" fill="#000"/>
<rect x="98.75" y="181.48" width="2.3" height="2.3" rx="0.4" fill="#000"/>
<rect x="123.45" y="181.48" width="2.3" height="2.3" rx="0.4" fill="#000"/>
<rect x="143.55" y="181.48" width="2.3" height="2.3" rx="0.4" fill="#000"/>
<rect x="120.85" y="184.16" width="2.3" height="2.3" rx="0.4" fill="#000"/>
<rect x="102.85" y="186.84" width="2.3" height="2.3" rx="0.4" fill="#000"/>
<rect x="119.85" y="186.84" width="2.3" height="2.3" rx="0.4" fill="#000"/>
<rect x="142.85" y="186.84" width="2.3" height="2.3" rx="0.4" fill="#000"/>
<rect x="108.45" y="189.53" width="2.3" height="2.3" rx="0.4" fill="#000"/>
<rect x="128.75" y="189.53" width="2.3" height="2.3" rx="0.4" fill="#000"/>
<rect x="121.55" y="192.21" width="2.3" height="2.3" rx="0.4" fill="#000"/>
<rect x="143.35" y="192.21" width="2.3" height="2.3" rx="0.4" fill="#000"/>
<rect x="124.35" y="194.90" width="2.3" height="2.3" rx="0.4" fill="#000"/>
<rect x="104.85" y="197.58" width="2.3" height="2.3" rx="0.4" fill="#000"/>
<rect x="122.35" y="197.58" width="2.3" height="2.3" rx="0.4" fill="#000"/>
<rect x="140.95" y="197.58" width="2.3" height="2.3" rx="0.4" fill="#000"/>
<rect x="118.75" y="200.26" width="2.3" height="2.3" rx="0.4" fill="#000"/>
<rect x="141.85" y="200.26" width="2.3" height="2.3" rx="0.4" fill="#000"/>
<rect x="107.55" y="202.95" width="2.3" height="2.3" rx="0.4" fill="#000"/>
<rect x="127.85" y="202.95" width="2.3" height="2.3" rx="0.4" fill="#000"/>
<rect x="103.55" y="205.63" width="2.3" height="2.3" rx="0.4" fill="#000"/>
<rect x="127.85" y="205.63" width="2.3" height="2.3" rx="0.4" fill="#000"/>
<rect x="117.75" y="208.31" width="2.3" height="2.3" rx="0.4" fill="#000"/>
<rect x="141.35" y="208.31" width="2.3" height="2.3" rx="0.4" fill="#000"/>
<rect x="102.85" y="211.00" width="2.3" height="2.3" rx="0.4" fill="#000"/>
<rect x="130.95" y="211.00" width="2.3" height="2.3" rx="0.4" fill="#000"/>
<rect x="113.55" y="213.68" width="2.3" height="2.3" rx="0.4" fill="#000"/>
<rect x="115.45" y="213.68" width="2.3" height="2.3" rx="0.4" fill="#000"/>
<rect x="139.45" y="213.68" width="2.3" height="2.3" rx="0.4" fill="#000"/>
<rect x="96.75" y="216.37" width="2.3" height="2.3" rx="0.4" fill="#000"/>
<rect x="120.85" y="216.37" width="2.3" height="2.3" rx="0.4" fill="#000"/>
<rect x="143.35" y="216.37" width="2.3" height="2.3" rx="0.4" fill="#000"/>
<line x1="600.30" y1="220.20" x2="683.60" y2="136.60" stroke="#999" stroke-width="0.7"/>
<polyline points="600.30,220.20 600.55,185.92 600.97,165.02 601.38,149.14 603.05,143.29 605.88,141.20 608.63,140.11 615.63,138.27 622.62,136.85 636.54,136.60 683.60,136.60" fill="none" stroke="#25883f" stroke-width="1.5" stroke-linejoin="round"/>
<polyline points="600.30,220.20 600.72,213.93 601.38,197.13 602.38,185.92 604.46,176.06 607.30,169.12 610.05,163.52 612.79,159.26 615.63,150.90 621.21,147.38 626.79,143.87 633.70,140.36 643.45,138.27 657.44,137.60 683.60,136.60" fill="none" stroke="#3050a2" stroke-width="1.5" stroke-linejoin="round"/>
<polyline points="600.30,220.20 600.97,185.92 601.72,160.01 604.46,154.99 607.96,150.14 612.79,146.63 618.38,143.20 625.29,141.11 633.62,139.44 643.45,138.52 657.44,138.02 672.77,137.60 683.60,136.60" fill="none" stroke="#d8303a" stroke-width="1.5" stroke-linejoin="round"/>
<rect x="600.30" y="136.60" width="83.30" height="83.60" fill="none" stroke="#262626" stroke-width="1.4"/>
<line x1="600.30" y1="220.20" x2="601.50" y2="220.20" stroke="#262626" stroke-width="1"/>
<line x1="682.40" y1="220.20" x2="683.60" y2="220.20" stroke="#262626" stroke-width="1"/>
<line x1="600.30" y1="220.20" x2="600.30" y2="219.00" stroke="#262626" stroke-width="1"/>
<line x1="600.30" y1="136.60" x2="600.30" y2="137.80" stroke="#262626" stroke-width="1"/>
<text x="598.10" y="224.50" font-size="9.35" text-anchor="end" fill="#222">0</text>
<text x="600.30" y="232.50" font-size="9.35" text-anchor="middle" fill="#222">0</text>
<line x1="600.30" y1="178.40" x2="601.50" y2="178.40" stroke="#262626" stroke-width="1"/>
<line x1="682.40" y1="178.40" x2="683.60" y2="178.40" stroke="#262626" stroke-width="1"/>
<line x1="641.95" y1="220.20" x2="641.95" y2="219.00" stroke="#262626" stroke-width="1"/>
<line x1="641.95" y1="136.60" x2="641.95" y2="137.80" stroke="#262626" stroke-width="1"/>
<text x="598.10" y="182.70" font-size="9.35" text-anchor="end" fill="#222">0.5</text>
<text x="641.95" y="232.50" font-size="9.35" text-anchor="middle" fill="#222">0.5</text>
<line x1="600.30" y1="136.60" x2="601.50" y2="136.60" stroke="#262626" stroke-width="1"/>
<line x1="682.40" y1="136.60" x2="683.60" y2="136.60" stroke="#262626" stroke-width="1"/>
<line x1="683.60" y1="220.20" x2="683.60" y2="219.00" stroke="#262626" stroke-width="1"/>
<line x1="683.60" y1="136.60" x2="683.60" y2="137.80" stroke="#262626" stroke-width="1"/>
<text x="598.10" y="140.90" font-size="9.35" text-anchor="end" fill="#222">1</text>
<text x="683.60" y="232.50" font-size="9.35" text-anchor="middle" fill="#222">1</text>
<text x="641.50" y="244.70" font-size="9.35" text-anchor="middle" fill="#222">FPR</text>
<text x="581.50" y="178.60" font-size="9.35" text-anchor="middle" fill="#222" transform="rotate(-90 581.5 178.6)">TPR</text>
<text x="7.0" y="304.60" font-size="9" text-anchor="middle" fill="#3a3a3a" transform="rotate(-90 7.0 304.60)"><tspan font-style="italic">ρ</tspan>=0.3</text>
<line x1="47.60" y1="262.30" x2="47.60" y2="346.20" stroke="#262626" stroke-width="1.4"/>
<line x1="46.90" y1="346.20" x2="146.40" y2="346.20" stroke="#262626" stroke-width="1.4"/>
<line x1="46.10" y1="263.00" x2="47.60" y2="263.00" stroke="#262626" stroke-width="1"/>
<text x="44.10" y="267.00" font-size="9.35" text-anchor="end" fill="#222">0</text>
<line x1="46.10" y1="289.84" x2="47.60" y2="289.84" stroke="#262626" stroke-width="1"/>
<text x="44.10" y="293.84" font-size="9.35" text-anchor="end" fill="#222">10</text>
<line x1="46.10" y1="316.68" x2="47.60" y2="316.68" stroke="#262626" stroke-width="1"/>
<text x="44.10" y="320.68" font-size="9.35" text-anchor="end" fill="#222">20</text>
<line x1="46.10" y1="343.52" x2="47.60" y2="343.52" stroke="#262626" stroke-width="1"/>
<text x="44.10" y="347.52" font-size="9.35" text-anchor="end" fill="#222">30</text>
<line x1="47.60" y1="346.20" x2="47.60" y2="347.70" stroke="#262626" stroke-width="1"/>
<text x="47.60" y="359.40" font-size="9.35" text-anchor="middle" fill="#222">0</text>
<line x1="86.45" y1="346.20" x2="86.45" y2="347.70" stroke="#262626" stroke-width="1"/>
<text x="86.45" y="359.40" font-size="9.35" text-anchor="middle" fill="#222">100</text>
<line x1="125.30" y1="346.20" x2="125.30" y2="347.70" stroke="#262626" stroke-width="1"/>
<text x="125.30" y="359.40" font-size="9.35" text-anchor="middle" fill="#222">200</text>
<text x="96.50" y="371.00" font-size="9.35" text-anchor="middle" fill="#222">Time(ms)</text>
<text x="30.50" y="305.10" font-size="9.35" text-anchor="middle" fill="#222" transform="rotate(-90 30.5 305.1)">Neuron No.</text>
<rect x="48.75" y="264.53" width="2.3" height="2.3" rx="0.4" fill="#000"/>
<rect x="50.55" y="267.22" width="2.3" height="2.3" rx="0.4" fill="#000"/>
<rect x="51.05" y="269.90" width="2.3" height="2.3" rx="0.4" fill="#000"/>
<rect x="46.85" y="272.59" width="2.3" height="2.3" rx="0.4" fill="#000"/>
<rect x="49.05" y="275.27" width="2.3" height="2.3" rx="0.4" fill="#000"/>
<rect x="51.45" y="277.95" width="2.3" height="2.3" rx="0.4" fill="#000"/>
<rect x="52.95" y="277.95" width="2.3" height="2.3" rx="0.4" fill="#000"/>
<rect x="51.05" y="280.64" width="2.3" height="2.3" rx="0.4" fill="#000"/>
<rect x="51.05" y="283.32" width="2.3" height="2.3" rx="0.4" fill="#000"/>
<rect x="55.05" y="286.00" width="2.3" height="2.3" rx="0.4" fill="#000"/>
<rect x="47.65" y="288.69" width="2.3" height="2.3" rx="0.4" fill="#000"/>
<rect x="49.55" y="291.37" width="2.3" height="2.3" rx="0.4" fill="#000"/>
<rect x="51.05" y="294.06" width="2.3" height="2.3" rx="0.4" fill="#000"/>
<rect x="51.05" y="296.74" width="2.3" height="2.3" rx="0.4" fill="#000"/>
<rect x="52.85" y="299.42" width="2.3" height="2.3" rx="0.4" fill="#000"/>
<rect x="49.55" y="302.11" width="2.3" height="2.3" rx="0.4" fill="#000"/>
<rect x="68.55" y="264.53" width="2.3" height="2.3" rx="0.4" fill="#000"/>
<rect x="71.75" y="264.53" width="2.3" height="2.3" rx="0.4" fill="#000"/>
<rect x="73.45" y="267.22" width="2.3" height="2.3" rx="0.4" fill="#000"/>
<rect x="72.05" y="269.90" width="2.3" height="2.3" rx="0.4" fill="#000"/>
<rect x="71.75" y="272.59" width="2.3" height="2.3" rx="0.4" fill="#000"/>
<rect x="69.85" y="275.27" width="2.3" height="2.3" rx="0.4" fill="#000"/>
<rect x="73.45" y="277.95" width="2.3" height="2.3" rx="0.4" fill="#000"/>
<rect x="74.95" y="277.95" width="2.3" height="2.3" rx="0.4" fill="#000"/>
<rect x="71.95" y="280.64" width="2.3" height="2.3" rx="0.4" fill="#000"/>
<rect x="73.85" y="283.32" width="2.3" height="2.3" rx="0.4" fill="#000"/>
<rect x="73.35" y="286.00" width="2.3" height="2.3" rx="0.4" fill="#000"/>
<rect x="70.05" y="288.69" width="2.3" height="2.3" rx="0.4" fill="#000"/>
<rect x="74.05" y="291.37" width="2.3" height="2.3" rx="0.4" fill="#000"/>
<rect x="73.05" y="294.06" width="2.3" height="2.3" rx="0.4" fill="#000"/>
<rect x="74.85" y="296.74" width="2.3" height="2.3" rx="0.4" fill="#000"/>
<rect x="74.65" y="299.42" width="2.3" height="2.3" rx="0.4" fill="#000"/>
<rect x="72.75" y="302.11" width="2.3" height="2.3" rx="0.4" fill="#000"/>
<rect x="93.55" y="264.53" width="2.3" height="2.3" rx="0.4" fill="#000"/>
<rect x="93.95" y="267.22" width="2.3" height="2.3" rx="0.4" fill="#000"/>
<rect x="92.25" y="269.90" width="2.3" height="2.3" rx="0.4" fill="#000"/>
<rect x="92.05" y="272.59" width="2.3" height="2.3" rx="0.4" fill="#000"/>
<rect x="93.95" y="272.59" width="2.3" height="2.3" rx="0.4" fill="#000"/>
<rect x="90.95" y="275.27" width="2.3" height="2.3" rx="0.4" fill="#000"/>
<rect x="94.75" y="277.95" width="2.3" height="2.3" rx="0.4" fill="#000"/>
<rect x="92.25" y="280.64" width="2.3" height="2.3" rx="0.4" fill="#000"/>
<rect x="95.45" y="283.32" width="2.3" height="2.3" rx="0.4" fill="#000"/>
<rect x="90.35" y="286.00" width="2.3" height="2.3" rx="0.4" fill="#000"/>
<rect x="92.25" y="288.69" width="2.3" height="2.3" rx="0.4" fill="#000"/>
<rect x="94.55" y="291.37" width="2.3" height="2.3" rx="0.4" fill="#000"/>
<rect x="94.75" y="294.06" width="2.3" height="2.3" rx="0.4" fill="#000"/>
<rect x="94.75" y="296.74" width="2.3" height="2.3" rx="0.4" fill="#000"/>
<rect x="94.75" y="299.42" width="2.3" height="2.3" rx="0.4" fill="#000"/>
<rect x="94.35" y="302.11" width="2.3" height="2.3" rx="0.4" fill="#000"/>
<rect x="94.65" y="264.53" width="2.3" height="2.3" rx="0.4" fill="#000"/>
<rect x="96.55" y="264.53" width="2.3" height="2.3" rx="0.4" fill="#000"/>
<rect x="96.15" y="277.95" width="2.3" height="2.3" rx="0.4" fill="#000"/>
<rect x="99.75" y="277.95" width="2.3" height="2.3" rx="0.4" fill="#000"/>
<rect x="96.55" y="294.06" width="2.3" height="2.3" rx="0.4" fill="#000"/>
<rect x="96.75" y="299.42" width="2.3" height="2.3" rx="0.4" fill="#000"/>
<rect x="117.75" y="264.53" width="2.3" height="2.3" rx="0.4" fill="#000"/>
<rect x="117.75" y="267.22" width="2.3" height="2.3" rx="0.4" fill="#000"/>
<rect x="115.45" y="269.90" width="2.3" height="2.3" rx="0.4" fill="#000"/>
<rect x="116.75" y="272.59" width="2.3" height="2.3" rx="0.4" fill="#000"/>
<rect x="115.75" y="275.27" width="2.3" height="2.3" rx="0.4" fill="#000"/>
<rect x="117.75" y="277.95" width="2.3" height="2.3" rx="0.4" fill="#000"/>
<rect x="120.05" y="277.95" width="2.3" height="2.3" rx="0.4" fill="#000"/>
<rect x="116.45" y="280.64" width="2.3" height="2.3" rx="0.4" fill="#000"/>
<rect x="119.85" y="283.32" width="2.3" height="2.3" rx="0.4" fill="#000"/>
<rect x="115.45" y="286.00" width="2.3" height="2.3" rx="0.4" fill="#000"/>
<rect x="112.95" y="288.69" width="2.3" height="2.3" rx="0.4" fill="#000"/>
<rect x="118.95" y="291.37" width="2.3" height="2.3" rx="0.4" fill="#000"/>
<rect x="117.75" y="294.06" width="2.3" height="2.3" rx="0.4" fill="#000"/>
<rect x="117.25" y="296.74" width="2.3" height="2.3" rx="0.4" fill="#000"/>
<rect x="119.85" y="299.42" width="2.3" height="2.3" rx="0.4" fill="#000"/>
<rect x="117.75" y="302.11" width="2.3" height="2.3" rx="0.4" fill="#000"/>
<rect x="136.75" y="264.53" width="2.3" height="2.3" rx="0.4" fill="#000"/>
<rect x="142.25" y="264.53" width="2.3" height="2.3" rx="0.4" fill="#000"/>
<rect x="140.15" y="267.22" width="2.3" height="2.3" rx="0.4" fill="#000"/>
<rect x="138.25" y="269.90" width="2.3" height="2.3" rx="0.4" fill="#000"/>
<rect x="139.75" y="272.59" width="2.3" height="2.3" rx="0.4" fill="#000"/>
<rect x="141.65" y="272.59" width="2.3" height="2.3" rx="0.4" fill="#000"/>
<rect x="138.65" y="275.27" width="2.3" height="2.3" rx="0.4" fill="#000"/>
<rect x="140.35" y="277.95" width="2.3" height="2.3" rx="0.4" fill="#000"/>
<rect x="140.35" y="280.64" width="2.3" height="2.3" rx="0.4" fill="#000"/>
<rect x="141.55" y="283.32" width="2.3" height="2.3" rx="0.4" fill="#000"/>
<rect x="138.65" y="286.00" width="2.3" height="2.3" rx="0.4" fill="#000"/>
<rect x="142.85" y="286.00" width="2.3" height="2.3" rx="0.4" fill="#000"/>
<rect x="139.45" y="288.69" width="2.3" height="2.3" rx="0.4" fill="#000"/>
<rect x="140.95" y="291.37" width="2.3" height="2.3" rx="0.4" fill="#000"/>
<rect x="140.95" y="294.06" width="2.3" height="2.3" rx="0.4" fill="#000"/>
<rect x="140.05" y="296.74" width="2.3" height="2.3" rx="0.4" fill="#000"/>
<rect x="142.85" y="299.42" width="2.3" height="2.3" rx="0.4" fill="#000"/>
<rect x="141.05" y="302.11" width="2.3" height="2.3" rx="0.4" fill="#000"/>
<rect x="46.85" y="304.79" width="2.3" height="2.3" rx="0.4" fill="#000"/>
<rect x="68.95" y="304.79" width="2.3" height="2.3" rx="0.4" fill="#000"/>
<rect x="90.75" y="304.79" width="2.3" height="2.3" rx="0.4" fill="#000"/>
<rect x="51.05" y="307.48" width="2.3" height="2.3" rx="0.4" fill="#000"/>
<rect x="52.55" y="307.48" width="2.3" height="2.3" rx="0.4" fill="#000"/>
<rect x="54.15" y="307.48" width="2.3" height="2.3" rx="0.4" fill="#000"/>
<rect x="73.85" y="307.48" width="2.3" height="2.3" rx="0.4" fill="#000"/>
<rect x="75.35" y="307.48" width="2.3" height="2.3" rx="0.4" fill="#000"/>
<rect x="94.75" y="307.48" width="2.3" height="2.3" rx="0.4" fill="#000"/>
<rect x="54.15" y="310.16" width="2.3" height="2.3" rx="0.4" fill="#000"/>
<rect x="85.95" y="310.16" width="2.3" height="2.3" rx="0.4" fill="#000"/>
<rect x="56.15" y="312.84" width="2.3" height="2.3" rx="0.4" fill="#000"/>
<rect x="78.05" y="312.84" width="2.3" height="2.3" rx="0.4" fill="#000"/>
<rect x="47.65" y="315.53" width="2.3" height="2.3" rx="0.4" fill="#000"/>
<rect x="67.05" y="315.53" width="2.3" height="2.3" rx="0.4" fill="#000"/>
<rect x="87.75" y="315.53" width="2.3" height="2.3" rx="0.4" fill="#000"/>
<rect x="90.95" y="315.53" width="2.3" height="2.3" rx="0.4" fill="#000"/>
<rect x="51.85" y="318.21" width="2.3" height="2.3" rx="0.4" fill="#000"/>
<rect x="74.35" y="318.21" width="2.3" height="2.3" rx="0.4" fill="#000"/>
<rect x="51.85" y="320.90" width="2.3" height="2.3" rx="0.4" fill="#000"/>
<rect x="77.15" y="320.90" width="2.3" height="2.3" rx="0.4" fill="#000"/>
<rect x="58.65" y="323.58" width="2.3" height="2.3" rx="0.4" fill="#000"/>
<rect x="80.65" y="323.58" width="2.3" height="2.3" rx="0.4" fill="#000"/>
<rect x="95.45" y="323.58" width="2.3" height="2.3" rx="0.4" fill="#000"/>
<rect x="49.55" y="326.26" width="2.3" height="2.3" rx="0.4" fill="#000"/>
<rect x="70.85" y="326.26" width="2.3" height="2.3" rx="0.4" fill="#000"/>
<rect x="93.05" y="326.26" width="2.3" height="2.3" rx="0.4" fill="#000"/>
<rect x="49.95" y="328.95" width="2.3" height="2.3" rx="0.4" fill="#000"/>
<rect x="74.05" y="328.95" width="2.3" height="2.3" rx="0.4" fill="#000"/>
<rect x="49.15" y="331.63" width="2.3" height="2.3" rx="0.4" fill="#000"/>
<rect x="51.05" y="331.63" width="2.3" height="2.3" rx="0.4" fill="#000"/>
<rect x="71.95" y="331.63" width="2.3" height="2.3" rx="0.4" fill="#000"/>
<rect x="76.85" y="331.63" width="2.3" height="2.3" rx="0.4" fill="#000"/>
<rect x="50.35" y="334.31" width="2.3" height="2.3" rx="0.4" fill="#000"/>
<rect x="71.35" y="334.31" width="2.3" height="2.3" rx="0.4" fill="#000"/>
<rect x="93.85" y="334.31" width="2.3" height="2.3" rx="0.4" fill="#000"/>
<rect x="51.55" y="337.00" width="2.3" height="2.3" rx="0.4" fill="#000"/>
<rect x="75.75" y="337.00" width="2.3" height="2.3" rx="0.4" fill="#000"/>
<rect x="63.75" y="339.68" width="2.3" height="2.3" rx="0.4" fill="#000"/>
<rect x="66.05" y="339.68" width="2.3" height="2.3" rx="0.4" fill="#000"/>
<rect x="87.75" y="339.68" width="2.3" height="2.3" rx="0.4" fill="#000"/>
<rect x="89.75" y="339.68" width="2.3" height="2.3" rx="0.4" fill="#000"/>
<rect x="51.45" y="342.37" width="2.3" height="2.3" rx="0.4" fill="#000"/>
<rect x="82.75" y="342.37" width="2.3" height="2.3" rx="0.4" fill="#000"/>
<rect x="96.15" y="307.48" width="2.3" height="2.3" rx="0.4" fill="#000"/>
<rect x="96.85" y="312.84" width="2.3" height="2.3" rx="0.4" fill="#000"/>
<rect x="96.75" y="318.21" width="2.3" height="2.3" rx="0.4" fill="#000"/>
<rect x="96.85" y="328.95" width="2.3" height="2.3" rx="0.4" fill="#000"/>
<rect x="102.05" y="331.63" width="2.3" height="2.3" rx="0.4" fill="#000"/>
<rect x="105.85" y="331.63" width="2.3" height="2.3" rx="0.4" fill="#000"/>
<rect x="99.15" y="337.00" width="2.3" height="2.3" rx="0.4" fill="#000"/>
<rect x="111.45" y="339.68" width="2.3" height="2.3" rx="0.4" fill="#000"/>
<rect x="109.85" y="342.37" width="2.3" height="2.3" rx="0.4" fill="#000"/>
<rect x="115.25" y="304.79" width="2.3" height="2.3" rx="0.4" fill="#000"/>
<rect x="136.95" y="304.79" width="2.3" height="2.3" rx="0.4" fill="#000"/>
<rect x="118.55" y="307.48" width="2.3" height="2.3" rx="0.4" fill="#000"/>
<rect x="120.05" y="307.48" width="2.3" height="2.3" rx="0.4" fill="#000"/>
<rect x="140.95" y="307.48" width="2.3" height="2.3" rx="0.4" fill="#000"/>
<rect x="142.85" y="307.48" width="2.3" height="2.3" rx="0.4" fill="#000"/>
<rect x="115.75" y="310.16" width="2.3" height="2.3" rx="0.4" fill="#000"/>
<rect x="139.45" y="310.16" width="2.3" height="2.3" rx="0.4" fill="#000"/>
<rect x="115.75" y="312.84" width="2.3" height="2.3" rx="0.4" fill="#000"/>
<rect x="136.25" y="312.84" width="2.3" height="2.3" rx="0.4" fill="#000"/>
<rect x="113.95" y="315.53" width="2.3" height="2.3" rx="0.4" fill="#000"/>
<rect x="117.25" y="315.53" width="2.3" height="2.3" rx="0.4" fill="#000"/>
<rect x="139.05" y="315.53" width="2.3" height="2.3" rx="0.4" fill="#000"/>
<rect x="141.85" y="315.53" width="2.3" height="2.3" rx="0.4" fill="#000"/>
<rect x="118.75" y="318.21" width="2.3" height="2.3" rx="0.4" fill="#000"/>
<rect x="140.75" y="318.21" width="2.3" height="2.3" rx="0.4" fill="#000"/>
<rect x="109.85" y="320.90" width="2.3" height="2.3" rx="0.4" fill="#000"/>
<rect x="136.75" y="320.90" width="2.3" height="2.3" rx="0.4" fill="#000"/>
<rect x="117.25" y="323.58" width="2.3" height="2.3" rx="0.4" fill="#000"/>
<rect x="136.95" y="323.58" width="2.3" height="2.3" rx="0.4" fill="#000"/>
<rect x="114.95" y="326.26" width="2.3" height="2.3" rx="0.4" fill="#000"/>
<rect x="139.05" y="326.26" width="2.3" height="2.3" rx="0.4" fill="#000"/>
<rect x="119.65" y="328.95" width="2.3" height="2.3" rx="0.4" fill="#000"/>
<rect x="141.55" y="328.95" width="2.3" height="2.3" rx="0.4" fill="#000"/>
<rect x="122.75" y="331.63" width="2.3" height="2.3" rx="0.4" fill="#000"/>
<rect x="139.45" y="331.63" width="2.3" height="2.3" rx="0.4" fill="#000"/>
<rect x="143.05" y="331.63" width="2.3" height="2.3" rx="0.4" fill="#000"/>
<rect x="117.75" y="334.31" width="2.3" height="2.3" rx="0.4" fill="#000"/>
<rect x="142.05" y="334.31" width="2.3" height="2.3" rx="0.4" fill="#000"/>
<rect x="121.95" y="337.00" width="2.3" height="2.3" rx="0.4" fill="#000"/>
<rect x="142.05" y="337.00" width="2.3" height="2.3" rx="0.4" fill="#000"/>
<rect x="135.95" y="339.68" width="2.3" height="2.3" rx="0.4" fill="#000"/>
<rect x="137.85" y="339.68" width="2.3" height="2.3" rx="0.4" fill="#000"/>
<rect x="135.65" y="342.37" width="2.3" height="2.3" rx="0.4" fill="#000"/>
<line x1="600.30" y1="346.20" x2="683.60" y2="262.60" stroke="#999" stroke-width="0.7"/>
<polyline points="600.30,346.20 600.55,324.63 600.97,305.07 602.38,296.71 604.46,289.77 607.30,284.92 608.63,278.65 610.71,275.81 613.54,273.05 615.63,270.96 622.62,269.54 633.70,268.20 639.28,266.78 644.87,264.02 653.20,263.02 664.36,262.60 683.60,262.60" fill="none" stroke="#25883f" stroke-width="1.5" stroke-linejoin="round"/>
<polyline points="600.30,346.20 602.38,335.75 605.88,325.97 610.05,316.27 613.54,314.85 617.04,306.49 621.21,296.71 626.79,292.53 632.37,288.35 639.28,282.08 644.87,280.74 650.45,277.23 656.03,273.05 660.19,270.29 664.36,265.36 671.35,263.27 683.60,262.60" fill="none" stroke="#3050a2" stroke-width="1.5" stroke-linejoin="round"/>
<polyline points="600.30,346.20 601.72,332.99 603.05,321.79 605.88,313.43 608.63,302.31 611.46,298.13 615.63,292.53 619.79,287.68 625.37,282.83 630.95,279.99 636.54,274.47 642.12,270.96 647.70,268.87 653.20,267.45 660.19,266.78 664.36,264.69 671.35,263.02 683.60,262.60" fill="none" stroke="#d8303a" stroke-width="1.5" stroke-linejoin="round"/>
<rect x="600.30" y="262.60" width="83.30" height="83.60" fill="none" stroke="#262626" stroke-width="1.4"/>
<line x1="600.30" y1="346.20" x2="601.50" y2="346.20" stroke="#262626" stroke-width="1"/>
<line x1="682.40" y1="346.20" x2="683.60" y2="346.20" stroke="#262626" stroke-width="1"/>
<line x1="600.30" y1="346.20" x2="600.30" y2="345.00" stroke="#262626" stroke-width="1"/>
<line x1="600.30" y1="262.60" x2="600.30" y2="263.80" stroke="#262626" stroke-width="1"/>
<text x="598.10" y="350.50" font-size="9.35" text-anchor="end" fill="#222">0</text>
<text x="600.30" y="358.50" font-size="9.35" text-anchor="middle" fill="#222">0</text>
<line x1="600.30" y1="304.40" x2="601.50" y2="304.40" stroke="#262626" stroke-width="1"/>
<line x1="682.40" y1="304.40" x2="683.60" y2="304.40" stroke="#262626" stroke-width="1"/>
<line x1="641.95" y1="346.20" x2="641.95" y2="345.00" stroke="#262626" stroke-width="1"/>
<line x1="641.95" y1="262.60" x2="641.95" y2="263.80" stroke="#262626" stroke-width="1"/>
<text x="598.10" y="308.70" font-size="9.35" text-anchor="end" fill="#222">0.5</text>
<text x="641.95" y="358.50" font-size="9.35" text-anchor="middle" fill="#222">0.5</text>
<line x1="600.30" y1="262.60" x2="601.50" y2="262.60" stroke="#262626" stroke-width="1"/>
<line x1="682.40" y1="262.60" x2="683.60" y2="262.60" stroke="#262626" stroke-width="1"/>
<line x1="683.60" y1="346.20" x2="683.60" y2="345.00" stroke="#262626" stroke-width="1"/>
<line x1="683.60" y1="262.60" x2="683.60" y2="263.80" stroke="#262626" stroke-width="1"/>
<text x="598.10" y="266.90" font-size="9.35" text-anchor="end" fill="#222">1</text>
<text x="683.60" y="358.50" font-size="9.35" text-anchor="middle" fill="#222">1</text>
<text x="641.50" y="370.70" font-size="9.35" text-anchor="middle" fill="#222">FPR</text>
<text x="581.50" y="304.60" font-size="9.35" text-anchor="middle" fill="#222" transform="rotate(-90 581.5 304.6)">TPR</text>
<rect x="184.10" y="71.81" width="3.44" height="22.29" fill="#0072bd" fill-opacity="0.6" stroke="#111" stroke-width="0.7"/>
<rect x="187.54" y="83.85" width="3.44" height="10.25" fill="#0072bd" fill-opacity="0.6" stroke="#111" stroke-width="0.7"/>
<rect x="190.98" y="82.06" width="3.44" height="12.04" fill="#0072bd" fill-opacity="0.6" stroke="#111" stroke-width="0.7"/>
<rect x="194.42" y="79.94" width="3.44" height="14.16" fill="#0072bd" fill-opacity="0.6" stroke="#111" stroke-width="0.7"/>
<rect x="197.86" y="76.27" width="3.44" height="17.83" fill="#0072bd" fill-opacity="0.6" stroke="#111" stroke-width="0.7"/>
<rect x="201.30" y="82.06" width="3.44" height="12.04" fill="#0072bd" fill-opacity="0.6" stroke="#111" stroke-width="0.7"/>
<rect x="204.74" y="82.06" width="3.44" height="12.04" fill="#0072bd" fill-opacity="0.6" stroke="#111" stroke-width="0.7"/>
<rect x="208.18" y="82.06" width="3.44" height="12.04" fill="#0072bd" fill-opacity="0.6" stroke="#111" stroke-width="0.7"/>
<rect x="211.62" y="83.85" width="3.44" height="10.25" fill="#0072bd" fill-opacity="0.6" stroke="#111" stroke-width="0.7"/>
<rect x="215.06" y="86.13" width="3.44" height="7.97" fill="#0072bd" fill-opacity="0.6" stroke="#111" stroke-width="0.7"/>
<rect x="218.50" y="78.55" width="3.44" height="15.55" fill="#0072bd" fill-opacity="0.6" stroke="#111" stroke-width="0.7"/>
<rect x="221.94" y="89.64" width="3.44" height="4.46" fill="#0072bd" fill-opacity="0.6" stroke="#111" stroke-width="0.7"/>
<rect x="225.38" y="88.69" width="3.44" height="5.41" fill="#0072bd" fill-opacity="0.6" stroke="#111" stroke-width="0.7"/>
<rect x="228.82" y="91.98" width="3.44" height="2.12" fill="#0072bd" fill-opacity="0.6" stroke="#111" stroke-width="0.7"/>
<rect x="232.26" y="91.31" width="3.44" height="2.79" fill="#0072bd" fill-opacity="0.6" stroke="#111" stroke-width="0.7"/>
<rect x="235.70" y="92.21" width="3.44" height="1.89" fill="#0072bd" fill-opacity="0.6" stroke="#111" stroke-width="0.7"/>
<rect x="239.14" y="92.99" width="3.44" height="1.11" fill="#0072bd" fill-opacity="0.6" stroke="#111" stroke-width="0.7"/>
<rect x="242.58" y="93.54" width="3.44" height="0.56" fill="#0072bd" fill-opacity="0.6" stroke="#111" stroke-width="0.7"/>
<rect x="246.02" y="93.54" width="3.44" height="0.56" fill="#0072bd" fill-opacity="0.6" stroke="#111" stroke-width="0.7"/>
<rect x="249.46" y="93.54" width="3.44" height="0.56" fill="#0072bd" fill-opacity="0.6" stroke="#111" stroke-width="0.7"/>
<rect x="184.10" y="24.43" width="3.44" height="69.67" fill="#d95319" fill-opacity="0.6" stroke="#111" stroke-width="0.7"/>
<rect x="187.54" y="52.30" width="3.44" height="41.80" fill="#d95319" fill-opacity="0.6" stroke="#111" stroke-width="0.7"/>
<rect x="190.98" y="45.28" width="3.44" height="48.82" fill="#d95319" fill-opacity="0.6" stroke="#111" stroke-width="0.7"/>
<rect x="194.42" y="48.40" width="3.44" height="45.70" fill="#d95319" fill-opacity="0.6" stroke="#111" stroke-width="0.7"/>
<rect x="197.86" y="66.23" width="3.44" height="27.87" fill="#d95319" fill-opacity="0.6" stroke="#111" stroke-width="0.7"/>
<rect x="201.30" y="60.99" width="3.44" height="33.11" fill="#d95319" fill-opacity="0.6" stroke="#111" stroke-width="0.7"/>
<rect x="204.74" y="73.31" width="3.44" height="20.79" fill="#d95319" fill-opacity="0.6" stroke="#111" stroke-width="0.7"/>
<rect x="208.18" y="82.06" width="3.44" height="12.04" fill="#d95319" fill-opacity="0.6" stroke="#111" stroke-width="0.7"/>
<rect x="211.62" y="84.46" width="3.44" height="9.64" fill="#d95319" fill-opacity="0.6" stroke="#111" stroke-width="0.7"/>
<rect x="215.06" y="85.74" width="3.44" height="8.36" fill="#d95319" fill-opacity="0.6" stroke="#111" stroke-width="0.7"/>
<rect x="218.50" y="88.69" width="3.44" height="5.41" fill="#d95319" fill-opacity="0.6" stroke="#111" stroke-width="0.7"/>
<rect x="221.94" y="89.64" width="3.44" height="4.46" fill="#d95319" fill-opacity="0.6" stroke="#111" stroke-width="0.7"/>
<rect x="225.38" y="92.21" width="3.44" height="1.89" fill="#d95319" fill-opacity="0.6" stroke="#111" stroke-width="0.7"/>
<rect x="228.82" y="93.38" width="3.44" height="0.72" fill="#d95319" fill-opacity="0.6" stroke="#111" stroke-width="0.7"/>
<rect x="232.26" y="91.03" width="3.44" height="3.07" fill="#d95319" fill-opacity="0.6" stroke="#111" stroke-width="0.7"/>
<rect x="235.70" y="92.76" width="3.44" height="1.34" fill="#d95319" fill-opacity="0.6" stroke="#111" stroke-width="0.7"/>
<rect x="239.14" y="93.54" width="3.44" height="0.56" fill="#d95319" fill-opacity="0.6" stroke="#111" stroke-width="0.7"/>
<rect x="249.46" y="93.54" width="3.44" height="0.56" fill="#d95319" fill-opacity="0.6" stroke="#111" stroke-width="0.7"/>
<rect x="184.00" y="10.50" width="97.80" height="83.60" fill="none" stroke="#262626" stroke-width="1.4"/>
<line x1="184.00" y1="94.10" x2="185.20" y2="94.10" stroke="#262626" stroke-width="1"/>
<line x1="280.60" y1="94.10" x2="281.80" y2="94.10" stroke="#262626" stroke-width="1"/>
<text x="181.70" y="97.70" font-size="9.35" text-anchor="end" fill="#222">0</text>
<line x1="184.00" y1="66.23" x2="185.20" y2="66.23" stroke="#262626" stroke-width="1"/>
<line x1="280.60" y1="66.23" x2="281.80" y2="66.23" stroke="#262626" stroke-width="1"/>
<text x="181.70" y="69.83" font-size="9.35" text-anchor="end" fill="#222">50</text>
<line x1="184.00" y1="38.37" x2="185.20" y2="38.37" stroke="#262626" stroke-width="1"/>
<line x1="280.60" y1="38.37" x2="281.80" y2="38.37" stroke="#262626" stroke-width="1"/>
<text x="181.70" y="41.97" font-size="9.35" text-anchor="end" fill="#222">100</text>
<line x1="184.00" y1="10.50" x2="185.20" y2="10.50" stroke="#262626" stroke-width="1"/>
<line x1="280.60" y1="10.50" x2="281.80" y2="10.50" stroke="#262626" stroke-width="1"/>
<text x="181.70" y="14.10" font-size="9.35" text-anchor="end" fill="#222">150</text>
<line x1="184.00" y1="94.10" x2="184.00" y2="92.90" stroke="#262626" stroke-width="1"/>
<line x1="184.00" y1="10.50" x2="184.00" y2="11.70" stroke="#262626" stroke-width="1"/>
<text x="184.00" y="106.90" font-size="9.35" text-anchor="middle" fill="#222">0</text>
<line x1="216.60" y1="94.10" x2="216.60" y2="92.90" stroke="#262626" stroke-width="1"/>
<line x1="216.60" y1="10.50" x2="216.60" y2="11.70" stroke="#262626" stroke-width="1"/>
<text x="216.60" y="106.90" font-size="9.35" text-anchor="middle" fill="#222">0.02</text>
<line x1="249.20" y1="94.10" x2="249.20" y2="92.90" stroke="#262626" stroke-width="1"/>
<line x1="249.20" y1="10.50" x2="249.20" y2="11.70" stroke="#262626" stroke-width="1"/>
<text x="249.20" y="106.90" font-size="9.35" text-anchor="middle" fill="#222">0.04</text>
<line x1="281.80" y1="94.10" x2="281.80" y2="92.90" stroke="#262626" stroke-width="1"/>
<line x1="281.80" y1="10.50" x2="281.80" y2="11.70" stroke="#262626" stroke-width="1"/>
<text x="281.80" y="106.90" font-size="9.35" text-anchor="middle" fill="#222">0.06</text>
<text x="232.90" y="118.60" font-size="9.35" text-anchor="middle" fill="#222">|J<tspan font-size="6.8" dy="3">ij</tspan><tspan dy="-3">|</tspan></text>
<text x="164.00" y="52.50" font-size="9.35" text-anchor="middle" fill="#222" transform="rotate(-90 164.0 52.5)">No. of connections</text>
<rect x="345.40" y="92.09" width="3.67" height="2.01" fill="#0072bd" fill-opacity="0.6" stroke="#111" stroke-width="0.7"/>
<rect x="349.07" y="91.31" width="3.67" height="2.79" fill="#0072bd" fill-opacity="0.6" stroke="#111" stroke-width="0.7"/>
<rect x="352.75" y="82.40" width="3.67" height="11.70" fill="#0072bd" fill-opacity="0.6" stroke="#111" stroke-width="0.7"/>
<rect x="356.42" y="75.15" width="3.67" height="18.95" fill="#0072bd" fill-opacity="0.6" stroke="#111" stroke-width="0.7"/>
<rect x="360.10" y="62.89" width="3.67" height="31.21" fill="#0072bd" fill-opacity="0.6" stroke="#111" stroke-width="0.7"/>
<rect x="363.77" y="58.54" width="3.67" height="35.56" fill="#0072bd" fill-opacity="0.6" stroke="#111" stroke-width="0.7"/>
<rect x="367.45" y="68.46" width="3.67" height="25.64" fill="#0072bd" fill-opacity="0.6" stroke="#111" stroke-width="0.7"/>
<rect x="371.12" y="82.40" width="3.67" height="11.70" fill="#0072bd" fill-opacity="0.6" stroke="#111" stroke-width="0.7"/>
<rect x="374.80" y="88.53" width="3.67" height="5.57" fill="#0072bd" fill-opacity="0.6" stroke="#111" stroke-width="0.7"/>
<rect x="378.47" y="87.69" width="3.67" height="6.41" fill="#0072bd" fill-opacity="0.6" stroke="#111" stroke-width="0.7"/>
<rect x="382.15" y="88.53" width="3.67" height="5.57" fill="#0072bd" fill-opacity="0.6" stroke="#111" stroke-width="0.7"/>
<rect x="385.82" y="92.43" width="3.67" height="1.67" fill="#0072bd" fill-opacity="0.6" stroke="#111" stroke-width="0.7"/>
<rect x="389.50" y="92.99" width="3.67" height="1.11" fill="#0072bd" fill-opacity="0.6" stroke="#111" stroke-width="0.7"/>
<rect x="393.17" y="93.54" width="3.67" height="0.56" fill="#0072bd" fill-opacity="0.6" stroke="#111" stroke-width="0.7"/>
<rect x="400.52" y="93.54" width="3.67" height="0.56" fill="#0072bd" fill-opacity="0.6" stroke="#111" stroke-width="0.7"/>
<rect x="320.60" y="78.22" width="3.67" height="15.88" fill="#d95319" fill-opacity="0.6" stroke="#111" stroke-width="0.7"/>
<rect x="349.07" y="87.24" width="3.67" height="6.86" fill="#d95319" fill-opacity="0.6" stroke="#111" stroke-width="0.7"/>
<rect x="352.75" y="71.97" width="3.67" height="22.13" fill="#d95319" fill-opacity="0.6" stroke="#111" stroke-width="0.7"/>
<rect x="356.42" y="43.94" width="3.67" height="50.16" fill="#d95319" fill-opacity="0.6" stroke="#111" stroke-width="0.7"/>
<rect x="360.10" y="36.30" width="3.67" height="57.80" fill="#d95319" fill-opacity="0.6" stroke="#111" stroke-width="0.7"/>
<rect x="363.77" y="24.04" width="3.67" height="70.06" fill="#d95319" fill-opacity="0.6" stroke="#111" stroke-width="0.7"/>
<rect x="367.45" y="46.17" width="3.67" height="47.93" fill="#d95319" fill-opacity="0.6" stroke="#111" stroke-width="0.7"/>
<rect x="371.12" y="67.35" width="3.67" height="26.75" fill="#d95319" fill-opacity="0.6" stroke="#111" stroke-width="0.7"/>
<rect x="374.80" y="73.14" width="3.67" height="20.96" fill="#d95319" fill-opacity="0.6" stroke="#111" stroke-width="0.7"/>
<rect x="378.47" y="87.24" width="3.67" height="6.86" fill="#d95319" fill-opacity="0.6" stroke="#111" stroke-width="0.7"/>
<rect x="382.15" y="87.69" width="3.67" height="6.41" fill="#d95319" fill-opacity="0.6" stroke="#111" stroke-width="0.7"/>
<rect x="385.82" y="90.92" width="3.67" height="3.18" fill="#d95319" fill-opacity="0.6" stroke="#111" stroke-width="0.7"/>
<rect x="389.50" y="92.99" width="3.67" height="1.11" fill="#d95319" fill-opacity="0.6" stroke="#111" stroke-width="0.7"/>
<rect x="393.17" y="93.54" width="3.67" height="0.56" fill="#d95319" fill-opacity="0.6" stroke="#111" stroke-width="0.7"/>
<rect x="400.52" y="92.99" width="3.67" height="1.11" fill="#d95319" fill-opacity="0.6" stroke="#111" stroke-width="0.7"/>
<rect x="320.60" y="10.50" width="97.60" height="83.60" fill="none" stroke="#262626" stroke-width="1.4"/>
<line x1="320.60" y1="94.10" x2="321.80" y2="94.10" stroke="#262626" stroke-width="1"/>
<line x1="417.00" y1="94.10" x2="418.20" y2="94.10" stroke="#262626" stroke-width="1"/>
<text x="318.30" y="97.70" font-size="9.35" text-anchor="end" fill="#222">0</text>
<line x1="320.60" y1="66.23" x2="321.80" y2="66.23" stroke="#262626" stroke-width="1"/>
<line x1="417.00" y1="66.23" x2="418.20" y2="66.23" stroke="#262626" stroke-width="1"/>
<text x="318.30" y="69.83" font-size="9.35" text-anchor="end" fill="#222">50</text>
<line x1="320.60" y1="38.37" x2="321.80" y2="38.37" stroke="#262626" stroke-width="1"/>
<line x1="417.00" y1="38.37" x2="418.20" y2="38.37" stroke="#262626" stroke-width="1"/>
<text x="318.30" y="41.97" font-size="9.35" text-anchor="end" fill="#222">100</text>
<line x1="320.60" y1="10.50" x2="321.80" y2="10.50" stroke="#262626" stroke-width="1"/>
<line x1="417.00" y1="10.50" x2="418.20" y2="10.50" stroke="#262626" stroke-width="1"/>
<text x="318.30" y="14.10" font-size="9.35" text-anchor="end" fill="#222">150</text>
<line x1="320.60" y1="94.10" x2="320.60" y2="92.90" stroke="#262626" stroke-width="1"/>
<line x1="320.60" y1="10.50" x2="320.60" y2="11.70" stroke="#262626" stroke-width="1"/>
<text x="320.60" y="106.90" font-size="9.35" text-anchor="middle" fill="#222">0</text>
<line x1="369.40" y1="94.10" x2="369.40" y2="92.90" stroke="#262626" stroke-width="1"/>
<line x1="369.40" y1="10.50" x2="369.40" y2="11.70" stroke="#262626" stroke-width="1"/>
<text x="369.40" y="106.90" font-size="9.35" text-anchor="middle" fill="#222">0.005</text>
<line x1="418.20" y1="94.10" x2="418.20" y2="92.90" stroke="#262626" stroke-width="1"/>
<line x1="418.20" y1="10.50" x2="418.20" y2="11.70" stroke="#262626" stroke-width="1"/>
<text x="418.20" y="106.90" font-size="9.35" text-anchor="middle" fill="#222">0.01</text>
<text x="369.40" y="118.60" font-size="9.35" text-anchor="middle" fill="#222">|PC<tspan font-size="6.8" dy="3">ij</tspan><tspan dy="-3">|</tspan></text>
<text x="300.60" y="52.50" font-size="9.35" text-anchor="middle" fill="#222" transform="rotate(-90 300.6 52.5)">No. of connections</text>
<rect x="486.80" y="92.09" width="3.12" height="2.01" fill="#0072bd" fill-opacity="0.6" stroke="#111" stroke-width="0.7"/>
<rect x="489.93" y="66.85" width="3.12" height="27.25" fill="#0072bd" fill-opacity="0.6" stroke="#111" stroke-width="0.7"/>
<rect x="493.05" y="57.32" width="3.12" height="36.78" fill="#0072bd" fill-opacity="0.6" stroke="#111" stroke-width="0.7"/>
<rect x="496.18" y="65.12" width="3.12" height="28.98" fill="#0072bd" fill-opacity="0.6" stroke="#111" stroke-width="0.7"/>
<rect x="499.30" y="66.79" width="3.12" height="27.31" fill="#0072bd" fill-opacity="0.6" stroke="#111" stroke-width="0.7"/>
<rect x="502.43" y="85.18" width="3.12" height="8.92" fill="#0072bd" fill-opacity="0.6" stroke="#111" stroke-width="0.7"/>
<rect x="505.55" y="75.15" width="3.12" height="18.95" fill="#0072bd" fill-opacity="0.6" stroke="#111" stroke-width="0.7"/>
<rect x="508.68" y="84.07" width="3.12" height="10.03" fill="#0072bd" fill-opacity="0.6" stroke="#111" stroke-width="0.7"/>
<rect x="511.80" y="90.76" width="3.12" height="3.34" fill="#0072bd" fill-opacity="0.6" stroke="#111" stroke-width="0.7"/>
<rect x="514.92" y="92.43" width="3.12" height="1.67" fill="#0072bd" fill-opacity="0.6" stroke="#111" stroke-width="0.7"/>
<rect x="518.05" y="92.99" width="3.12" height="1.11" fill="#0072bd" fill-opacity="0.6" stroke="#111" stroke-width="0.7"/>
<rect x="521.17" y="93.54" width="3.12" height="0.56" fill="#0072bd" fill-opacity="0.6" stroke="#111" stroke-width="0.7"/>
<rect x="524.30" y="92.99" width="3.12" height="1.11" fill="#0072bd" fill-opacity="0.6" stroke="#111" stroke-width="0.7"/>
<rect x="456.40" y="77.94" width="3.20" height="16.16" fill="#d95319" fill-opacity="0.6" stroke="#111" stroke-width="0.7"/>
<rect x="489.93" y="32.79" width="3.12" height="61.31" fill="#d95319" fill-opacity="0.6" stroke="#111" stroke-width="0.7"/>
<rect x="493.05" y="30.56" width="3.12" height="63.54" fill="#d95319" fill-opacity="0.6" stroke="#111" stroke-width="0.7"/>
<rect x="496.18" y="38.37" width="3.12" height="55.73" fill="#d95319" fill-opacity="0.6" stroke="#111" stroke-width="0.7"/>
<rect x="499.30" y="35.02" width="3.12" height="59.08" fill="#d95319" fill-opacity="0.6" stroke="#111" stroke-width="0.7"/>
<rect x="502.43" y="56.20" width="3.12" height="37.90" fill="#d95319" fill-opacity="0.6" stroke="#111" stroke-width="0.7"/>
<rect x="505.55" y="75.32" width="3.12" height="18.78" fill="#d95319" fill-opacity="0.6" stroke="#111" stroke-width="0.7"/>
<rect x="508.68" y="81.84" width="3.12" height="12.26" fill="#d95319" fill-opacity="0.6" stroke="#111" stroke-width="0.7"/>
<rect x="511.80" y="91.31" width="3.12" height="2.79" fill="#d95319" fill-opacity="0.6" stroke="#111" stroke-width="0.7"/>
<rect x="514.92" y="88.53" width="3.12" height="5.57" fill="#d95319" fill-opacity="0.6" stroke="#111" stroke-width="0.7"/>
<rect x="518.05" y="89.64" width="3.12" height="4.46" fill="#d95319" fill-opacity="0.6" stroke="#111" stroke-width="0.7"/>
<rect x="521.17" y="92.99" width="3.12" height="1.11" fill="#d95319" fill-opacity="0.6" stroke="#111" stroke-width="0.7"/>
<rect x="456.40" y="10.50" width="98.10" height="83.60" fill="none" stroke="#262626" stroke-width="1.4"/>
<line x1="456.40" y1="94.10" x2="457.60" y2="94.10" stroke="#262626" stroke-width="1"/>
<line x1="553.30" y1="94.10" x2="554.50" y2="94.10" stroke="#262626" stroke-width="1"/>
<text x="454.10" y="97.70" font-size="9.35" text-anchor="end" fill="#222">0</text>
<line x1="456.40" y1="66.23" x2="457.60" y2="66.23" stroke="#262626" stroke-width="1"/>
<line x1="553.30" y1="66.23" x2="554.50" y2="66.23" stroke="#262626" stroke-width="1"/>
<text x="454.10" y="69.83" font-size="9.35" text-anchor="end" fill="#222">50</text>
<line x1="456.40" y1="38.37" x2="457.60" y2="38.37" stroke="#262626" stroke-width="1"/>
<line x1="553.30" y1="38.37" x2="554.50" y2="38.37" stroke="#262626" stroke-width="1"/>
<text x="454.10" y="41.97" font-size="9.35" text-anchor="end" fill="#222">100</text>
<line x1="456.40" y1="10.50" x2="457.60" y2="10.50" stroke="#262626" stroke-width="1"/>
<line x1="553.30" y1="10.50" x2="554.50" y2="10.50" stroke="#262626" stroke-width="1"/>
<text x="454.10" y="14.10" font-size="9.35" text-anchor="end" fill="#222">150</text>
<line x1="456.40" y1="94.10" x2="456.40" y2="92.90" stroke="#262626" stroke-width="1"/>
<line x1="456.40" y1="10.50" x2="456.40" y2="11.70" stroke="#262626" stroke-width="1"/>
<text x="456.40" y="106.90" font-size="9.35" text-anchor="middle" fill="#222">0</text>
<line x1="489.10" y1="94.10" x2="489.10" y2="92.90" stroke="#262626" stroke-width="1"/>
<line x1="489.10" y1="10.50" x2="489.10" y2="11.70" stroke="#262626" stroke-width="1"/>
<text x="489.10" y="106.90" font-size="9.35" text-anchor="middle" fill="#222">0.02</text>
<line x1="521.80" y1="94.10" x2="521.80" y2="92.90" stroke="#262626" stroke-width="1"/>
<line x1="521.80" y1="10.50" x2="521.80" y2="11.70" stroke="#262626" stroke-width="1"/>
<text x="521.80" y="106.90" font-size="9.35" text-anchor="middle" fill="#222">0.04</text>
<line x1="554.50" y1="94.10" x2="554.50" y2="92.90" stroke="#262626" stroke-width="1"/>
<line x1="554.50" y1="10.50" x2="554.50" y2="11.70" stroke="#262626" stroke-width="1"/>
<text x="554.50" y="106.90" font-size="9.35" text-anchor="middle" fill="#222">0.06</text>
<text x="505.45" y="118.60" font-size="9.35" text-anchor="middle" fill="#222">|CC<tspan font-size="6.8" dy="3">ij</tspan><tspan dy="-3">|</tspan></text>
<text x="436.40" y="52.50" font-size="9.35" text-anchor="middle" fill="#222" transform="rotate(-90 436.4 52.5)">No. of connections</text>
<rect x="190.3" y="13.2" width="13.3" height="7.3" fill="#0072bd" fill-opacity="0.6" stroke="#111" stroke-width="0.8"/>
<rect x="190.3" y="22.6" width="13.3" height="7.9" fill="#d95319" fill-opacity="0.6" stroke="#111" stroke-width="0.8"/>
<text x="205.00" y="19.50" font-size="7.4" text-anchor="start" fill="#222">synaptic connection</text>
<text x="205.00" y="29.50" font-size="7.4" text-anchor="start" fill="#222">no synaptic connection</text>
<rect x="184.00" y="217.69" width="4.89" height="2.51" fill="#0072bd" fill-opacity="0.6" stroke="#111" stroke-width="0.7"/>
<rect x="188.89" y="214.35" width="4.89" height="5.85" fill="#0072bd" fill-opacity="0.6" stroke="#111" stroke-width="0.7"/>
<rect x="193.78" y="216.86" width="4.89" height="3.34" fill="#0072bd" fill-opacity="0.6" stroke="#111" stroke-width="0.7"/>
<rect x="198.67" y="212.26" width="4.89" height="7.94" fill="#0072bd" fill-opacity="0.6" stroke="#111" stroke-width="0.7"/>
<rect x="203.56" y="213.30" width="4.89" height="6.90" fill="#0072bd" fill-opacity="0.6" stroke="#111" stroke-width="0.7"/>
<rect x="208.45" y="213.93" width="4.89" height="6.27" fill="#0072bd" fill-opacity="0.6" stroke="#111" stroke-width="0.7"/>
<rect x="213.34" y="215.18" width="4.89" height="5.02" fill="#0072bd" fill-opacity="0.6" stroke="#111" stroke-width="0.7"/>
<rect x="218.23" y="215.18" width="4.89" height="5.02" fill="#0072bd" fill-opacity="0.6" stroke="#111" stroke-width="0.7"/>
<rect x="223.12" y="219.57" width="4.89" height="0.63" fill="#0072bd" fill-opacity="0.6" stroke="#111" stroke-width="0.7"/>
<rect x="228.01" y="218.95" width="4.89" height="1.25" fill="#0072bd" fill-opacity="0.6" stroke="#111" stroke-width="0.7"/>
<rect x="232.90" y="219.36" width="4.89" height="0.84" fill="#0072bd" fill-opacity="0.6" stroke="#111" stroke-width="0.7"/>
<rect x="237.79" y="219.36" width="4.89" height="0.84" fill="#0072bd" fill-opacity="0.6" stroke="#111" stroke-width="0.7"/>
<rect x="242.68" y="219.89" width="4.89" height="0.31" fill="#0072bd" fill-opacity="0.6" stroke="#111" stroke-width="0.7"/>
<rect x="247.57" y="219.89" width="4.89" height="0.31" fill="#0072bd" fill-opacity="0.6" stroke="#111" stroke-width="0.7"/>
<rect x="252.46" y="219.57" width="4.89" height="0.63" fill="#0072bd" fill-opacity="0.6" stroke="#111" stroke-width="0.7"/>
<rect x="257.35" y="219.99" width="4.89" height="0.21" fill="#0072bd" fill-opacity="0.6" stroke="#111" stroke-width="0.7"/>
<rect x="184.00" y="140.36" width="4.89" height="79.84" fill="#d95319" fill-opacity="0.6" stroke="#111" stroke-width="0.7"/>
<rect x="188.89" y="186.13" width="4.89" height="34.07" fill="#d95319" fill-opacity="0.6" stroke="#111" stroke-width="0.7"/>
<rect x="193.78" y="210.38" width="4.89" height="9.82" fill="#d95319" fill-opacity="0.6" stroke="#111" stroke-width="0.7"/>
<rect x="198.67" y="218.53" width="4.89" height="1.67" fill="#d95319" fill-opacity="0.6" stroke="#111" stroke-width="0.7"/>
<rect x="184.00" y="136.60" width="97.80" height="83.60" fill="none" stroke="#262626" stroke-width="1.4"/>
<line x1="184.00" y1="220.20" x2="185.20" y2="220.20" stroke="#262626" stroke-width="1"/>
<line x1="280.60" y1="220.20" x2="281.80" y2="220.20" stroke="#262626" stroke-width="1"/>
<text x="181.70" y="223.80" font-size="9.35" text-anchor="end" fill="#222">0</text>
<line x1="184.00" y1="199.30" x2="185.20" y2="199.30" stroke="#262626" stroke-width="1"/>
<line x1="280.60" y1="199.30" x2="281.80" y2="199.30" stroke="#262626" stroke-width="1"/>
<text x="181.70" y="202.90" font-size="9.35" text-anchor="end" fill="#222">100</text>
<line x1="184.00" y1="178.40" x2="185.20" y2="178.40" stroke="#262626" stroke-width="1"/>
<line x1="280.60" y1="178.40" x2="281.80" y2="178.40" stroke="#262626" stroke-width="1"/>
<text x="181.70" y="182.00" font-size="9.35" text-anchor="end" fill="#222">200</text>
<line x1="184.00" y1="157.50" x2="185.20" y2="157.50" stroke="#262626" stroke-width="1"/>
<line x1="280.60" y1="157.50" x2="281.80" y2="157.50" stroke="#262626" stroke-width="1"/>
<text x="181.70" y="161.10" font-size="9.35" text-anchor="end" fill="#222">300</text>
<line x1="184.00" y1="136.60" x2="185.20" y2="136.60" stroke="#262626" stroke-width="1"/>
<line x1="280.60" y1="136.60" x2="281.80" y2="136.60" stroke="#262626" stroke-width="1"/>
<text x="181.70" y="140.20" font-size="9.35" text-anchor="end" fill="#222">400</text>
<line x1="184.00" y1="220.20" x2="184.00" y2="219.00" stroke="#262626" stroke-width="1"/>
<line x1="184.00" y1="136.60" x2="184.00" y2="137.80" stroke="#262626" stroke-width="1"/>
<text x="184.00" y="233.00" font-size="9.35" text-anchor="middle" fill="#222">0</text>
<line x1="232.90" y1="220.20" x2="232.90" y2="219.00" stroke="#262626" stroke-width="1"/>
<line x1="232.90" y1="136.60" x2="232.90" y2="137.80" stroke="#262626" stroke-width="1"/>
<text x="232.90" y="233.00" font-size="9.35" text-anchor="middle" fill="#222">0.1</text>
<line x1="281.80" y1="220.20" x2="281.80" y2="219.00" stroke="#262626" stroke-width="1"/>
<line x1="281.80" y1="136.60" x2="281.80" y2="137.80" stroke="#262626" stroke-width="1"/>
<text x="281.80" y="233.00" font-size="9.35" text-anchor="middle" fill="#222">0.2</text>
<text x="232.90" y="244.70" font-size="9.35" text-anchor="middle" fill="#222">|J<tspan font-size="6.8" dy="3">ij</tspan><tspan dy="-3">|</tspan></text>
<text x="164.00" y="178.60" font-size="9.35" text-anchor="middle" fill="#222" transform="rotate(-90 164.0 178.6)">No. of connections</text>
<rect x="338.36" y="219.36" width="4.56" height="0.84" fill="#0072bd" fill-opacity="0.6" stroke="#111" stroke-width="0.7"/>
<rect x="342.91" y="216.94" width="4.56" height="3.26" fill="#0072bd" fill-opacity="0.6" stroke="#111" stroke-width="0.7"/>
<rect x="347.47" y="214.07" width="4.56" height="6.13" fill="#0072bd" fill-opacity="0.6" stroke="#111" stroke-width="0.7"/>
<rect x="352.03" y="209.61" width="4.56" height="10.59" fill="#0072bd" fill-opacity="0.6" stroke="#111" stroke-width="0.7"/>
<rect x="356.59" y="212.20" width="4.56" height="8.00" fill="#0072bd" fill-opacity="0.6" stroke="#111" stroke-width="0.7"/>
<rect x="361.14" y="206.88" width="4.56" height="13.32" fill="#0072bd" fill-opacity="0.6" stroke="#111" stroke-width="0.7"/>
<rect x="365.70" y="210.00" width="4.56" height="10.20" fill="#0072bd" fill-opacity="0.6" stroke="#111" stroke-width="0.7"/>
<rect x="370.26" y="210.73" width="4.56" height="9.47" fill="#0072bd" fill-opacity="0.6" stroke="#111" stroke-width="0.7"/>
<rect x="374.81" y="217.25" width="4.56" height="2.95" fill="#0072bd" fill-opacity="0.6" stroke="#111" stroke-width="0.7"/>
<rect x="379.37" y="217.25" width="4.56" height="2.95" fill="#0072bd" fill-opacity="0.6" stroke="#111" stroke-width="0.7"/>
<rect x="383.93" y="215.74" width="4.56" height="4.46" fill="#0072bd" fill-opacity="0.6" stroke="#111" stroke-width="0.7"/>
<rect x="388.48" y="219.09" width="4.56" height="1.11" fill="#0072bd" fill-opacity="0.6" stroke="#111" stroke-width="0.7"/>
<rect x="393.04" y="219.48" width="4.56" height="0.72" fill="#0072bd" fill-opacity="0.6" stroke="#111" stroke-width="0.7"/>
<rect x="397.60" y="219.92" width="4.56" height="0.28" fill="#0072bd" fill-opacity="0.6" stroke="#111" stroke-width="0.7"/>
<rect x="402.16" y="219.92" width="4.56" height="0.28" fill="#0072bd" fill-opacity="0.6" stroke="#111" stroke-width="0.7"/>
<rect x="406.71" y="219.92" width="4.56" height="0.28" fill="#0072bd" fill-opacity="0.6" stroke="#111" stroke-width="0.7"/>
<rect x="411.27" y="219.92" width="4.56" height="0.28" fill="#0072bd" fill-opacity="0.6" stroke="#111" stroke-width="0.7"/>
<rect x="320.60" y="212.51" width="4.60" height="7.69" fill="#d95319" fill-opacity="0.6" stroke="#111" stroke-width="0.7"/>
<rect x="333.80" y="205.85" width="4.56" height="14.35" fill="#d95319" fill-opacity="0.6" stroke="#111" stroke-width="0.7"/>
<rect x="338.36" y="150.34" width="4.56" height="69.86" fill="#d95319" fill-opacity="0.6" stroke="#111" stroke-width="0.7"/>
<rect x="342.91" y="161.12" width="4.56" height="59.08" fill="#d95319" fill-opacity="0.6" stroke="#111" stroke-width="0.7"/>
<rect x="347.47" y="206.88" width="4.56" height="13.32" fill="#d95319" fill-opacity="0.6" stroke="#111" stroke-width="0.7"/>
<rect x="320.60" y="136.60" width="97.60" height="83.60" fill="none" stroke="#262626" stroke-width="1.4"/>
<line x1="320.60" y1="220.20" x2="321.80" y2="220.20" stroke="#262626" stroke-width="1"/>
<line x1="417.00" y1="220.20" x2="418.20" y2="220.20" stroke="#262626" stroke-width="1"/>
<text x="318.30" y="223.80" font-size="9.35" text-anchor="end" fill="#222">0</text>
<line x1="320.60" y1="192.33" x2="321.80" y2="192.33" stroke="#262626" stroke-width="1"/>
<line x1="417.00" y1="192.33" x2="418.20" y2="192.33" stroke="#262626" stroke-width="1"/>
<text x="318.30" y="195.93" font-size="9.35" text-anchor="end" fill="#222">100</text>
<line x1="320.60" y1="164.47" x2="321.80" y2="164.47" stroke="#262626" stroke-width="1"/>
<line x1="417.00" y1="164.47" x2="418.20" y2="164.47" stroke="#262626" stroke-width="1"/>
<text x="318.30" y="168.07" font-size="9.35" text-anchor="end" fill="#222">200</text>
<line x1="320.60" y1="136.60" x2="321.80" y2="136.60" stroke="#262626" stroke-width="1"/>
<line x1="417.00" y1="136.60" x2="418.20" y2="136.60" stroke="#262626" stroke-width="1"/>
<text x="318.30" y="140.20" font-size="9.35" text-anchor="end" fill="#222">300</text>
<line x1="320.60" y1="220.20" x2="320.60" y2="219.00" stroke="#262626" stroke-width="1"/>
<line x1="320.60" y1="136.60" x2="320.60" y2="137.80" stroke="#262626" stroke-width="1"/>
<text x="320.60" y="233.00" font-size="9.35" text-anchor="middle" fill="#222">0</text>
<line x1="369.40" y1="220.20" x2="369.40" y2="219.00" stroke="#262626" stroke-width="1"/>
<line x1="369.40" y1="136.60" x2="369.40" y2="137.80" stroke="#262626" stroke-width="1"/>
<text x="369.40" y="233.00" font-size="9.35" text-anchor="middle" fill="#222">0.01</text>
<line x1="418.20" y1="220.20" x2="418.20" y2="219.00" stroke="#262626" stroke-width="1"/>
<line x1="418.20" y1="136.60" x2="418.20" y2="137.80" stroke="#262626" stroke-width="1"/>
<text x="418.20" y="233.00" font-size="9.35" text-anchor="middle" fill="#222">0.02</text>
<text x="369.40" y="244.70" font-size="9.35" text-anchor="middle" fill="#222">|PC<tspan font-size="6.8" dy="3">ij</tspan><tspan dy="-3">|</tspan></text>
<text x="300.60" y="178.60" font-size="9.35" text-anchor="middle" fill="#222" transform="rotate(-90 300.6 178.6)">No. of connections</text>
<rect x="482.00" y="219.78" width="3.57" height="0.42" fill="#0072bd" fill-opacity="0.6" stroke="#111" stroke-width="0.7"/>
<rect x="492.71" y="214.35" width="3.57" height="5.85" fill="#0072bd" fill-opacity="0.6" stroke="#111" stroke-width="0.7"/>
<rect x="496.28" y="205.57" width="3.57" height="14.63" fill="#0072bd" fill-opacity="0.6" stroke="#111" stroke-width="0.7"/>
<rect x="499.85" y="202.23" width="3.57" height="17.97" fill="#0072bd" fill-opacity="0.6" stroke="#111" stroke-width="0.7"/>
<rect x="503.42" y="202.23" width="3.57" height="17.97" fill="#0072bd" fill-opacity="0.6" stroke="#111" stroke-width="0.7"/>
<rect x="506.99" y="196.37" width="3.57" height="23.83" fill="#0072bd" fill-opacity="0.6" stroke="#111" stroke-width="0.7"/>
<rect x="510.56" y="206.41" width="3.57" height="13.79" fill="#0072bd" fill-opacity="0.6" stroke="#111" stroke-width="0.7"/>
<rect x="514.13" y="206.41" width="3.57" height="13.79" fill="#0072bd" fill-opacity="0.6" stroke="#111" stroke-width="0.7"/>
<rect x="517.70" y="218.11" width="3.57" height="2.09" fill="#0072bd" fill-opacity="0.6" stroke="#111" stroke-width="0.7"/>
<rect x="521.27" y="215.18" width="3.57" height="5.02" fill="#0072bd" fill-opacity="0.6" stroke="#111" stroke-width="0.7"/>
<rect x="524.84" y="219.78" width="3.57" height="0.42" fill="#0072bd" fill-opacity="0.6" stroke="#111" stroke-width="0.7"/>
<rect x="456.40" y="208.91" width="3.70" height="11.29" fill="#d95319" fill-opacity="0.6" stroke="#111" stroke-width="0.7"/>
<rect x="485.57" y="207.03" width="3.57" height="13.17" fill="#d95319" fill-opacity="0.6" stroke="#111" stroke-width="0.7"/>
<rect x="489.14" y="160.01" width="3.57" height="60.19" fill="#d95319" fill-opacity="0.6" stroke="#111" stroke-width="0.7"/>
<rect x="492.71" y="144.12" width="3.57" height="76.08" fill="#d95319" fill-opacity="0.6" stroke="#111" stroke-width="0.7"/>
<rect x="496.28" y="175.89" width="3.57" height="44.31" fill="#d95319" fill-opacity="0.6" stroke="#111" stroke-width="0.7"/>
<rect x="499.85" y="205.99" width="3.57" height="14.21" fill="#d95319" fill-opacity="0.6" stroke="#111" stroke-width="0.7"/>
<rect x="503.42" y="205.15" width="3.57" height="15.05" fill="#d95319" fill-opacity="0.6" stroke="#111" stroke-width="0.7"/>
<rect x="506.99" y="211.84" width="3.57" height="8.36" fill="#d95319" fill-opacity="0.6" stroke="#111" stroke-width="0.7"/>
<rect x="510.56" y="216.86" width="3.57" height="3.34" fill="#d95319" fill-opacity="0.6" stroke="#111" stroke-width="0.7"/>
<rect x="456.40" y="136.60" width="98.10" height="83.60" fill="none" stroke="#262626" stroke-width="1.4"/>
<line x1="456.40" y1="220.20" x2="457.60" y2="220.20" stroke="#262626" stroke-width="1"/>
<line x1="553.30" y1="220.20" x2="554.50" y2="220.20" stroke="#262626" stroke-width="1"/>
<text x="454.10" y="223.80" font-size="9.35" text-anchor="end" fill="#222">0</text>
<line x1="456.40" y1="199.30" x2="457.60" y2="199.30" stroke="#262626" stroke-width="1"/>
<line x1="553.30" y1="199.30" x2="554.50" y2="199.30" stroke="#262626" stroke-width="1"/>
<text x="454.10" y="202.90" font-size="9.35" text-anchor="end" fill="#222">50</text>
<line x1="456.40" y1="178.40" x2="457.60" y2="178.40" stroke="#262626" stroke-width="1"/>
<line x1="553.30" y1="178.40" x2="554.50" y2="178.40" stroke="#262626" stroke-width="1"/>
<text x="454.10" y="182.00" font-size="9.35" text-anchor="end" fill="#222">100</text>
<line x1="456.40" y1="157.50" x2="457.60" y2="157.50" stroke="#262626" stroke-width="1"/>
<line x1="553.30" y1="157.50" x2="554.50" y2="157.50" stroke="#262626" stroke-width="1"/>
<text x="454.10" y="161.10" font-size="9.35" text-anchor="end" fill="#222">150</text>
<line x1="456.40" y1="136.60" x2="457.60" y2="136.60" stroke="#262626" stroke-width="1"/>
<line x1="553.30" y1="136.60" x2="554.50" y2="136.60" stroke="#262626" stroke-width="1"/>
<text x="454.10" y="140.20" font-size="9.35" text-anchor="end" fill="#222">200</text>
<line x1="456.40" y1="220.20" x2="456.40" y2="219.00" stroke="#262626" stroke-width="1"/>
<line x1="456.40" y1="136.60" x2="456.40" y2="137.80" stroke="#262626" stroke-width="1"/>
<text x="456.40" y="233.00" font-size="9.35" text-anchor="middle" fill="#222">0</text>
<line x1="489.10" y1="220.20" x2="489.10" y2="219.00" stroke="#262626" stroke-width="1"/>
<line x1="489.10" y1="136.60" x2="489.10" y2="137.80" stroke="#262626" stroke-width="1"/>
<text x="489.10" y="233.00" font-size="9.35" text-anchor="middle" fill="#222">0.02</text>
<line x1="521.80" y1="220.20" x2="521.80" y2="219.00" stroke="#262626" stroke-width="1"/>
<line x1="521.80" y1="136.60" x2="521.80" y2="137.80" stroke="#262626" stroke-width="1"/>
<text x="521.80" y="233.00" font-size="9.35" text-anchor="middle" fill="#222">0.04</text>
<line x1="554.50" y1="220.20" x2="554.50" y2="219.00" stroke="#262626" stroke-width="1"/>
<line x1="554.50" y1="136.60" x2="554.50" y2="137.80" stroke="#262626" stroke-width="1"/>
<text x="554.50" y="233.00" font-size="9.35" text-anchor="middle" fill="#222">0.06</text>
<text x="505.45" y="244.70" font-size="9.35" text-anchor="middle" fill="#222">|CC<tspan font-size="6.8" dy="3">ij</tspan><tspan dy="-3">|</tspan></text>
<text x="436.40" y="178.60" font-size="9.35" text-anchor="middle" fill="#222" transform="rotate(-90 436.4 178.6)">No. of connections</text>
<rect x="184.00" y="338.68" width="3.27" height="7.52" fill="#0072bd" fill-opacity="0.6" stroke="#111" stroke-width="0.7"/>
<rect x="187.27" y="340.35" width="3.27" height="5.85" fill="#0072bd" fill-opacity="0.6" stroke="#111" stroke-width="0.7"/>
<rect x="190.54" y="331.57" width="3.27" height="14.63" fill="#0072bd" fill-opacity="0.6" stroke="#111" stroke-width="0.7"/>
<rect x="193.81" y="336.80" width="3.27" height="9.41" fill="#0072bd" fill-opacity="0.6" stroke="#111" stroke-width="0.7"/>
<rect x="197.08" y="337.09" width="3.27" height="9.11" fill="#0072bd" fill-opacity="0.6" stroke="#111" stroke-width="0.7"/>
<rect x="200.35" y="338.68" width="3.27" height="7.52" fill="#0072bd" fill-opacity="0.6" stroke="#111" stroke-width="0.7"/>
<rect x="203.62" y="332.82" width="3.27" height="13.38" fill="#0072bd" fill-opacity="0.6" stroke="#111" stroke-width="0.7"/>
<rect x="206.89" y="336.38" width="3.27" height="9.82" fill="#0072bd" fill-opacity="0.6" stroke="#111" stroke-width="0.7"/>
<rect x="210.16" y="342.02" width="3.27" height="4.18" fill="#0072bd" fill-opacity="0.6" stroke="#111" stroke-width="0.7"/>
<rect x="213.43" y="336.38" width="3.27" height="9.82" fill="#0072bd" fill-opacity="0.6" stroke="#111" stroke-width="0.7"/>
<rect x="216.70" y="341.60" width="3.27" height="4.60" fill="#0072bd" fill-opacity="0.6" stroke="#111" stroke-width="0.7"/>
<rect x="219.97" y="339.76" width="3.27" height="6.44" fill="#0072bd" fill-opacity="0.6" stroke="#111" stroke-width="0.7"/>
<rect x="223.24" y="344.53" width="3.27" height="1.67" fill="#0072bd" fill-opacity="0.6" stroke="#111" stroke-width="0.7"/>
<rect x="226.51" y="345.16" width="3.27" height="1.05" fill="#0072bd" fill-opacity="0.6" stroke="#111" stroke-width="0.7"/>
<rect x="229.78" y="342.86" width="3.27" height="3.34" fill="#0072bd" fill-opacity="0.6" stroke="#111" stroke-width="0.7"/>
<rect x="233.05" y="344.74" width="3.27" height="1.46" fill="#0072bd" fill-opacity="0.6" stroke="#111" stroke-width="0.7"/>
<rect x="236.32" y="345.36" width="3.27" height="0.84" fill="#0072bd" fill-opacity="0.6" stroke="#111" stroke-width="0.7"/>
<rect x="239.59" y="345.78" width="3.27" height="0.42" fill="#0072bd" fill-opacity="0.6" stroke="#111" stroke-width="0.7"/>
<rect x="242.86" y="344.74" width="3.27" height="1.46" fill="#0072bd" fill-opacity="0.6" stroke="#111" stroke-width="0.7"/>
<rect x="246.13" y="345.16" width="3.27" height="1.05" fill="#0072bd" fill-opacity="0.6" stroke="#111" stroke-width="0.7"/>
<rect x="249.40" y="345.45" width="3.27" height="0.75" fill="#0072bd" fill-opacity="0.6" stroke="#111" stroke-width="0.7"/>
<rect x="184.00" y="273.47" width="3.27" height="72.73" fill="#d95319" fill-opacity="0.6" stroke="#111" stroke-width="0.7"/>
<rect x="187.27" y="289.35" width="3.27" height="56.85" fill="#d95319" fill-opacity="0.6" stroke="#111" stroke-width="0.7"/>
<rect x="190.54" y="310.42" width="3.27" height="35.78" fill="#d95319" fill-opacity="0.6" stroke="#111" stroke-width="0.7"/>
<rect x="193.81" y="316.52" width="3.27" height="29.68" fill="#d95319" fill-opacity="0.6" stroke="#111" stroke-width="0.7"/>
<rect x="197.08" y="330.53" width="3.27" height="15.68" fill="#d95319" fill-opacity="0.6" stroke="#111" stroke-width="0.7"/>
<rect x="200.35" y="331.99" width="3.27" height="14.21" fill="#d95319" fill-opacity="0.6" stroke="#111" stroke-width="0.7"/>
<rect x="203.62" y="341.18" width="3.27" height="5.02" fill="#d95319" fill-opacity="0.6" stroke="#111" stroke-width="0.7"/>
<rect x="206.89" y="341.60" width="3.27" height="4.60" fill="#d95319" fill-opacity="0.6" stroke="#111" stroke-width="0.7"/>
<rect x="210.16" y="341.18" width="3.27" height="5.02" fill="#d95319" fill-opacity="0.6" stroke="#111" stroke-width="0.7"/>
<rect x="213.43" y="342.86" width="3.27" height="3.34" fill="#d95319" fill-opacity="0.6" stroke="#111" stroke-width="0.7"/>
<rect x="216.70" y="344.11" width="3.27" height="2.09" fill="#d95319" fill-opacity="0.6" stroke="#111" stroke-width="0.7"/>
<rect x="219.97" y="344.11" width="3.27" height="2.09" fill="#d95319" fill-opacity="0.6" stroke="#111" stroke-width="0.7"/>
<rect x="223.24" y="342.86" width="3.27" height="3.34" fill="#d95319" fill-opacity="0.6" stroke="#111" stroke-width="0.7"/>
<rect x="226.51" y="345.16" width="3.27" height="1.05" fill="#d95319" fill-opacity="0.6" stroke="#111" stroke-width="0.7"/>
<rect x="229.78" y="345.36" width="3.27" height="0.84" fill="#d95319" fill-opacity="0.6" stroke="#111" stroke-width="0.7"/>
<rect x="233.05" y="345.36" width="3.27" height="0.84" fill="#d95319" fill-opacity="0.6" stroke="#111" stroke-width="0.7"/>
<rect x="236.32" y="345.78" width="3.27" height="0.42" fill="#d95319" fill-opacity="0.6" stroke="#111" stroke-width="0.7"/>
<rect x="239.59" y="345.78" width="3.27" height="0.42" fill="#d95319" fill-opacity="0.6" stroke="#111" stroke-width="0.7"/>
<rect x="242.86" y="345.36" width="3.27" height="0.84" fill="#d95319" fill-opacity="0.6" stroke="#111" stroke-width="0.7"/>
<rect x="246.13" y="345.78" width="3.27" height="0.42" fill="#d95319" fill-opacity="0.6" stroke="#111" stroke-width="0.7"/>
<rect x="249.40" y="345.78" width="3.27" height="0.42" fill="#d95319" fill-opacity="0.6" stroke="#111" stroke-width="0.7"/>
<rect x="184.00" y="262.60" width="97.80" height="83.60" fill="none" stroke="#262626" stroke-width="1.4"/>
<line x1="184.00" y1="346.20" x2="185.20" y2="346.20" stroke="#262626" stroke-width="1"/>
<line x1="280.60" y1="346.20" x2="281.80" y2="346.20" stroke="#262626" stroke-width="1"/>
<text x="181.70" y="349.80" font-size="9.35" text-anchor="end" fill="#222">0</text>
<line x1="184.00" y1="325.30" x2="185.20" y2="325.30" stroke="#262626" stroke-width="1"/>
<line x1="280.60" y1="325.30" x2="281.80" y2="325.30" stroke="#262626" stroke-width="1"/>
<text x="181.70" y="328.90" font-size="9.35" text-anchor="end" fill="#222">50</text>
<line x1="184.00" y1="304.40" x2="185.20" y2="304.40" stroke="#262626" stroke-width="1"/>
<line x1="280.60" y1="304.40" x2="281.80" y2="304.40" stroke="#262626" stroke-width="1"/>
<text x="181.70" y="308.00" font-size="9.35" text-anchor="end" fill="#222">100</text>
<line x1="184.00" y1="283.50" x2="185.20" y2="283.50" stroke="#262626" stroke-width="1"/>
<line x1="280.60" y1="283.50" x2="281.80" y2="283.50" stroke="#262626" stroke-width="1"/>
<text x="181.70" y="287.10" font-size="9.35" text-anchor="end" fill="#222">150</text>
<line x1="184.00" y1="262.60" x2="185.20" y2="262.60" stroke="#262626" stroke-width="1"/>
<line x1="280.60" y1="262.60" x2="281.80" y2="262.60" stroke="#262626" stroke-width="1"/>
<text x="181.70" y="266.20" font-size="9.35" text-anchor="end" fill="#222">200</text>
<line x1="184.00" y1="346.20" x2="184.00" y2="345.00" stroke="#262626" stroke-width="1"/>
<line x1="184.00" y1="262.60" x2="184.00" y2="263.80" stroke="#262626" stroke-width="1"/>
<text x="184.00" y="359.00" font-size="9.35" text-anchor="middle" fill="#222">0</text>
<line x1="216.60" y1="346.20" x2="216.60" y2="345.00" stroke="#262626" stroke-width="1"/>
<line x1="216.60" y1="262.60" x2="216.60" y2="263.80" stroke="#262626" stroke-width="1"/>
<text x="216.60" y="359.00" font-size="9.35" text-anchor="middle" fill="#222">0.2</text>
<line x1="249.20" y1="346.20" x2="249.20" y2="345.00" stroke="#262626" stroke-width="1"/>
<line x1="249.20" y1="262.60" x2="249.20" y2="263.80" stroke="#262626" stroke-width="1"/>
<text x="249.20" y="359.00" font-size="9.35" text-anchor="middle" fill="#222">0.4</text>
<line x1="281.80" y1="346.20" x2="281.80" y2="345.00" stroke="#262626" stroke-width="1"/>
<line x1="281.80" y1="262.60" x2="281.80" y2="263.80" stroke="#262626" stroke-width="1"/>
<text x="281.80" y="359.00" font-size="9.35" text-anchor="middle" fill="#222">0.6</text>
<text x="232.90" y="370.70" font-size="9.35" text-anchor="middle" fill="#222">|J<tspan font-size="6.8" dy="3">ij</tspan><tspan dy="-3">|</tspan></text>
<text x="164.00" y="304.60" font-size="9.35" text-anchor="middle" fill="#222" transform="rotate(-90 164.0 304.6)">No. of connections</text>
<rect x="320.60" y="337.84" width="3.07" height="8.36" fill="#0072bd" fill-opacity="0.6" stroke="#111" stroke-width="0.7"/>
<rect x="323.67" y="343.41" width="3.07" height="2.79" fill="#0072bd" fill-opacity="0.6" stroke="#111" stroke-width="0.7"/>
<rect x="326.74" y="338.95" width="3.07" height="7.25" fill="#0072bd" fill-opacity="0.6" stroke="#111" stroke-width="0.7"/>
<rect x="329.81" y="337.28" width="3.07" height="8.92" fill="#0072bd" fill-opacity="0.6" stroke="#111" stroke-width="0.7"/>
<rect x="332.88" y="333.10" width="3.07" height="13.10" fill="#0072bd" fill-opacity="0.6" stroke="#111" stroke-width="0.7"/>
<rect x="335.95" y="336.73" width="3.07" height="9.47" fill="#0072bd" fill-opacity="0.6" stroke="#111" stroke-width="0.7"/>
<rect x="339.02" y="339.51" width="3.07" height="6.69" fill="#0072bd" fill-opacity="0.6" stroke="#111" stroke-width="0.7"/>
<rect x="342.09" y="339.60" width="3.07" height="6.60" fill="#0072bd" fill-opacity="0.6" stroke="#111" stroke-width="0.7"/>
<rect x="345.16" y="339.60" width="3.07" height="6.60" fill="#0072bd" fill-opacity="0.6" stroke="#111" stroke-width="0.7"/>
<rect x="348.23" y="343.41" width="3.07" height="2.79" fill="#0072bd" fill-opacity="0.6" stroke="#111" stroke-width="0.7"/>
<rect x="351.30" y="344.53" width="3.07" height="1.67" fill="#0072bd" fill-opacity="0.6" stroke="#111" stroke-width="0.7"/>
<rect x="354.37" y="342.30" width="3.07" height="3.90" fill="#0072bd" fill-opacity="0.6" stroke="#111" stroke-width="0.7"/>
<rect x="357.44" y="343.97" width="3.07" height="2.23" fill="#0072bd" fill-opacity="0.6" stroke="#111" stroke-width="0.7"/>
<rect x="360.51" y="345.36" width="3.07" height="0.84" fill="#0072bd" fill-opacity="0.6" stroke="#111" stroke-width="0.7"/>
<rect x="363.58" y="345.64" width="3.07" height="0.56" fill="#0072bd" fill-opacity="0.6" stroke="#111" stroke-width="0.7"/>
<rect x="366.65" y="345.64" width="3.07" height="0.56" fill="#0072bd" fill-opacity="0.6" stroke="#111" stroke-width="0.7"/>
<rect x="369.72" y="345.78" width="3.07" height="0.42" fill="#0072bd" fill-opacity="0.6" stroke="#111" stroke-width="0.7"/>
<rect x="372.79" y="345.92" width="3.07" height="0.28" fill="#0072bd" fill-opacity="0.6" stroke="#111" stroke-width="0.7"/>
<rect x="375.86" y="345.92" width="3.07" height="0.28" fill="#0072bd" fill-opacity="0.6" stroke="#111" stroke-width="0.7"/>
<rect x="378.93" y="345.92" width="3.07" height="0.28" fill="#0072bd" fill-opacity="0.6" stroke="#111" stroke-width="0.7"/>
<rect x="382.00" y="345.92" width="3.07" height="0.28" fill="#0072bd" fill-opacity="0.6" stroke="#111" stroke-width="0.7"/>
<rect x="320.60" y="343.13" width="3.07" height="3.07" fill="#d95319" fill-opacity="0.6" stroke="#111" stroke-width="0.7"/>
<rect x="323.67" y="267.89" width="3.07" height="78.31" fill="#d95319" fill-opacity="0.6" stroke="#111" stroke-width="0.7"/>
<rect x="326.74" y="291.58" width="3.07" height="54.62" fill="#d95319" fill-opacity="0.6" stroke="#111" stroke-width="0.7"/>
<rect x="329.81" y="330.04" width="3.07" height="16.16" fill="#d95319" fill-opacity="0.6" stroke="#111" stroke-width="0.7"/>
<rect x="332.88" y="341.74" width="3.07" height="4.46" fill="#d95319" fill-opacity="0.6" stroke="#111" stroke-width="0.7"/>
<rect x="335.95" y="344.81" width="3.07" height="1.39" fill="#d95319" fill-opacity="0.6" stroke="#111" stroke-width="0.7"/>
<rect x="339.02" y="345.36" width="3.07" height="0.84" fill="#d95319" fill-opacity="0.6" stroke="#111" stroke-width="0.7"/>
<rect x="342.09" y="345.64" width="3.07" height="0.56" fill="#d95319" fill-opacity="0.6" stroke="#111" stroke-width="0.7"/>
<rect x="345.16" y="345.92" width="3.07" height="0.28" fill="#d95319" fill-opacity="0.6" stroke="#111" stroke-width="0.7"/>
<rect x="348.23" y="345.92" width="3.07" height="0.28" fill="#d95319" fill-opacity="0.6" stroke="#111" stroke-width="0.7"/>
<rect x="351.30" y="345.92" width="3.07" height="0.28" fill="#d95319" fill-opacity="0.6" stroke="#111" stroke-width="0.7"/>
<rect x="354.37" y="345.92" width="3.07" height="0.28" fill="#d95319" fill-opacity="0.6" stroke="#111" stroke-width="0.7"/>
<rect x="357.44" y="345.92" width="3.07" height="0.28" fill="#d95319" fill-opacity="0.6" stroke="#111" stroke-width="0.7"/>
<rect x="360.51" y="345.92" width="3.07" height="0.28" fill="#d95319" fill-opacity="0.6" stroke="#111" stroke-width="0.7"/>
<rect x="320.60" y="262.60" width="97.60" height="83.60" fill="none" stroke="#262626" stroke-width="1.4"/>
<line x1="320.60" y1="346.20" x2="321.80" y2="346.20" stroke="#262626" stroke-width="1"/>
<line x1="417.00" y1="346.20" x2="418.20" y2="346.20" stroke="#262626" stroke-width="1"/>
<text x="318.30" y="349.80" font-size="9.35" text-anchor="end" fill="#222">0</text>
<line x1="320.60" y1="318.33" x2="321.80" y2="318.33" stroke="#262626" stroke-width="1"/>
<line x1="417.00" y1="318.33" x2="418.20" y2="318.33" stroke="#262626" stroke-width="1"/>
<text x="318.30" y="321.93" font-size="9.35" text-anchor="end" fill="#222">100</text>
<line x1="320.60" y1="290.47" x2="321.80" y2="290.47" stroke="#262626" stroke-width="1"/>
<line x1="417.00" y1="290.47" x2="418.20" y2="290.47" stroke="#262626" stroke-width="1"/>
<text x="318.30" y="294.07" font-size="9.35" text-anchor="end" fill="#222">200</text>
<line x1="320.60" y1="262.60" x2="321.80" y2="262.60" stroke="#262626" stroke-width="1"/>
<line x1="417.00" y1="262.60" x2="418.20" y2="262.60" stroke="#262626" stroke-width="1"/>
<text x="318.30" y="266.20" font-size="9.35" text-anchor="end" fill="#222">300</text>
<line x1="320.60" y1="346.20" x2="320.60" y2="345.00" stroke="#262626" stroke-width="1"/>
<line x1="320.60" y1="262.60" x2="320.60" y2="263.80" stroke="#262626" stroke-width="1"/>
<text x="320.60" y="359.00" font-size="9.35" text-anchor="middle" fill="#222">0</text>
<line x1="369.40" y1="346.20" x2="369.40" y2="345.00" stroke="#262626" stroke-width="1"/>
<line x1="369.40" y1="262.60" x2="369.40" y2="263.80" stroke="#262626" stroke-width="1"/>
<text x="369.40" y="359.00" font-size="9.35" text-anchor="middle" fill="#222">0.05</text>
<line x1="418.20" y1="346.20" x2="418.20" y2="345.00" stroke="#262626" stroke-width="1"/>
<line x1="418.20" y1="262.60" x2="418.20" y2="263.80" stroke="#262626" stroke-width="1"/>
<text x="418.20" y="359.00" font-size="9.35" text-anchor="middle" fill="#222">0.1</text>
<text x="369.40" y="370.70" font-size="9.35" text-anchor="middle" fill="#222">|PC<tspan font-size="6.8" dy="3">ij</tspan><tspan dy="-3">|</tspan></text>
<text x="300.60" y="304.60" font-size="9.35" text-anchor="middle" fill="#222" transform="rotate(-90 300.6 304.6)">No. of connections</text>
<rect x="472.44" y="337.84" width="4.01" height="8.36" fill="#0072bd" fill-opacity="0.6" stroke="#111" stroke-width="0.7"/>
<rect x="476.45" y="337.84" width="4.01" height="8.36" fill="#0072bd" fill-opacity="0.6" stroke="#111" stroke-width="0.7"/>
<rect x="480.46" y="331.57" width="4.01" height="14.63" fill="#0072bd" fill-opacity="0.6" stroke="#111" stroke-width="0.7"/>
<rect x="484.47" y="329.81" width="4.01" height="16.39" fill="#0072bd" fill-opacity="0.6" stroke="#111" stroke-width="0.7"/>
<rect x="488.48" y="326.14" width="4.01" height="20.06" fill="#0072bd" fill-opacity="0.6" stroke="#111" stroke-width="0.7"/>
<rect x="492.49" y="324.63" width="4.01" height="21.57" fill="#0072bd" fill-opacity="0.6" stroke="#111" stroke-width="0.7"/>
<rect x="496.50" y="322.46" width="4.01" height="23.74" fill="#0072bd" fill-opacity="0.6" stroke="#111" stroke-width="0.7"/>
<rect x="500.51" y="316.27" width="4.01" height="29.93" fill="#0072bd" fill-opacity="0.6" stroke="#111" stroke-width="0.7"/>
<rect x="504.52" y="324.63" width="4.01" height="21.57" fill="#0072bd" fill-opacity="0.6" stroke="#111" stroke-width="0.7"/>
<rect x="508.53" y="330.07" width="4.01" height="16.13" fill="#0072bd" fill-opacity="0.6" stroke="#111" stroke-width="0.7"/>
<rect x="512.54" y="331.99" width="4.01" height="14.21" fill="#0072bd" fill-opacity="0.6" stroke="#111" stroke-width="0.7"/>
<rect x="516.55" y="326.14" width="4.01" height="20.06" fill="#0072bd" fill-opacity="0.6" stroke="#111" stroke-width="0.7"/>
<rect x="520.56" y="333.66" width="4.01" height="12.54" fill="#0072bd" fill-opacity="0.6" stroke="#111" stroke-width="0.7"/>
<rect x="524.57" y="342.86" width="4.01" height="3.34" fill="#0072bd" fill-opacity="0.6" stroke="#111" stroke-width="0.7"/>
<rect x="528.58" y="337.84" width="4.01" height="8.36" fill="#0072bd" fill-opacity="0.6" stroke="#111" stroke-width="0.7"/>
<rect x="532.59" y="344.70" width="4.01" height="1.50" fill="#0072bd" fill-opacity="0.6" stroke="#111" stroke-width="0.7"/>
<rect x="536.60" y="344.70" width="4.01" height="1.50" fill="#0072bd" fill-opacity="0.6" stroke="#111" stroke-width="0.7"/>
<rect x="456.40" y="321.71" width="4.01" height="24.49" fill="#d95319" fill-opacity="0.6" stroke="#111" stroke-width="0.7"/>
<rect x="468.43" y="329.81" width="4.01" height="16.39" fill="#d95319" fill-opacity="0.6" stroke="#111" stroke-width="0.7"/>
<rect x="472.44" y="287.68" width="4.01" height="58.52" fill="#d95319" fill-opacity="0.6" stroke="#111" stroke-width="0.7"/>
<rect x="476.45" y="314.43" width="4.01" height="31.77" fill="#d95319" fill-opacity="0.6" stroke="#111" stroke-width="0.7"/>
<rect x="480.46" y="314.43" width="4.01" height="31.77" fill="#d95319" fill-opacity="0.6" stroke="#111" stroke-width="0.7"/>
<rect x="484.47" y="282.66" width="4.01" height="63.54" fill="#d95319" fill-opacity="0.6" stroke="#111" stroke-width="0.7"/>
<rect x="488.48" y="274.30" width="4.01" height="71.90" fill="#d95319" fill-opacity="0.6" stroke="#111" stroke-width="0.7"/>
<rect x="492.49" y="292.36" width="4.01" height="53.84" fill="#d95319" fill-opacity="0.6" stroke="#111" stroke-width="0.7"/>
<rect x="496.50" y="310.67" width="4.01" height="35.53" fill="#d95319" fill-opacity="0.6" stroke="#111" stroke-width="0.7"/>
<rect x="500.51" y="317.27" width="4.01" height="28.93" fill="#d95319" fill-opacity="0.6" stroke="#111" stroke-width="0.7"/>
<rect x="504.52" y="312.43" width="4.01" height="33.77" fill="#d95319" fill-opacity="0.6" stroke="#111" stroke-width="0.7"/>
<rect x="508.53" y="329.81" width="4.01" height="16.39" fill="#d95319" fill-opacity="0.6" stroke="#111" stroke-width="0.7"/>
<rect x="512.54" y="330.07" width="4.01" height="16.13" fill="#d95319" fill-opacity="0.6" stroke="#111" stroke-width="0.7"/>
<rect x="516.55" y="337.84" width="4.01" height="8.36" fill="#d95319" fill-opacity="0.6" stroke="#111" stroke-width="0.7"/>
<rect x="520.56" y="332.82" width="4.01" height="13.38" fill="#d95319" fill-opacity="0.6" stroke="#111" stroke-width="0.7"/>
<rect x="524.57" y="341.52" width="4.01" height="4.68" fill="#d95319" fill-opacity="0.6" stroke="#111" stroke-width="0.7"/>
<rect x="532.59" y="344.70" width="4.01" height="1.50" fill="#d95319" fill-opacity="0.6" stroke="#111" stroke-width="0.7"/>
<rect x="536.60" y="344.70" width="4.01" height="1.50" fill="#d95319" fill-opacity="0.6" stroke="#111" stroke-width="0.7"/>
<rect x="456.40" y="262.60" width="98.10" height="83.60" fill="none" stroke="#262626" stroke-width="1.4"/>
<line x1="456.40" y1="346.20" x2="457.60" y2="346.20" stroke="#262626" stroke-width="1"/>
<line x1="553.30" y1="346.20" x2="554.50" y2="346.20" stroke="#262626" stroke-width="1"/>
<text x="454.10" y="349.80" font-size="9.35" text-anchor="end" fill="#222">0</text>
<line x1="456.40" y1="304.40" x2="457.60" y2="304.40" stroke="#262626" stroke-width="1"/>
<line x1="553.30" y1="304.40" x2="554.50" y2="304.40" stroke="#262626" stroke-width="1"/>
<text x="454.10" y="308.00" font-size="9.35" text-anchor="end" fill="#222">50</text>
<line x1="456.40" y1="262.60" x2="457.60" y2="262.60" stroke="#262626" stroke-width="1"/>
<line x1="553.30" y1="262.60" x2="554.50" y2="262.60" stroke="#262626" stroke-width="1"/>
<text x="454.10" y="266.20" font-size="9.35" text-anchor="end" fill="#222">100</text>
<line x1="456.40" y1="346.20" x2="456.40" y2="345.00" stroke="#262626" stroke-width="1"/>
<line x1="456.40" y1="262.60" x2="456.40" y2="263.80" stroke="#262626" stroke-width="1"/>
<text x="456.40" y="359.00" font-size="9.35" text-anchor="middle" fill="#222">0</text>
<line x1="505.45" y1="346.20" x2="505.45" y2="345.00" stroke="#262626" stroke-width="1"/>
<line x1="505.45" y1="262.60" x2="505.45" y2="263.80" stroke="#262626" stroke-width="1"/>
<text x="505.45" y="359.00" font-size="9.35" text-anchor="middle" fill="#222">0.1</text>
<line x1="554.50" y1="346.20" x2="554.50" y2="345.00" stroke="#262626" stroke-width="1"/>
<line x1="554.50" y1="262.60" x2="554.50" y2="263.80" stroke="#262626" stroke-width="1"/>
<text x="554.50" y="359.00" font-size="9.35" text-anchor="middle" fill="#222">0.2</text>
<text x="505.45" y="370.70" font-size="9.35" text-anchor="middle" fill="#222">|CC<tspan font-size="6.8" dy="3">ij</tspan><tspan dy="-3">|</tspan></text>
<text x="436.40" y="304.60" font-size="9.35" text-anchor="middle" fill="#222" transform="rotate(-90 436.4 304.6)">No. of connections</text>
<rect x="55.6" y="402.6" width="253.10" height="252.70" fill="none" stroke="#1a1a1a" stroke-width="1.4"/>
<line x1="61.41" y1="655.30" x2="61.41" y2="653.30" stroke="#1a1a1a" stroke-width="1.1"/>
<line x1="61.41" y1="402.60" x2="61.41" y2="404.60" stroke="#1a1a1a" stroke-width="1.1"/>
<line x1="66.55" y1="655.30" x2="66.55" y2="653.30" stroke="#1a1a1a" stroke-width="1.1"/>
<line x1="66.55" y1="402.60" x2="66.55" y2="404.60" stroke="#1a1a1a" stroke-width="1.1"/>
<line x1="71.00" y1="655.30" x2="71.00" y2="653.30" stroke="#1a1a1a" stroke-width="1.1"/>
<line x1="71.00" y1="402.60" x2="71.00" y2="404.60" stroke="#1a1a1a" stroke-width="1.1"/>
<line x1="74.93" y1="655.30" x2="74.93" y2="653.30" stroke="#1a1a1a" stroke-width="1.1"/>
<line x1="74.93" y1="402.60" x2="74.93" y2="404.60" stroke="#1a1a1a" stroke-width="1.1"/>
<line x1="78.44" y1="655.30" x2="78.44" y2="652.30" stroke="#1a1a1a" stroke-width="1.1"/>
<line x1="78.44" y1="402.60" x2="78.44" y2="405.60" stroke="#1a1a1a" stroke-width="1.1"/>
<line x1="101.54" y1="655.30" x2="101.54" y2="653.30" stroke="#1a1a1a" stroke-width="1.1"/>
<line x1="101.54" y1="402.60" x2="101.54" y2="404.60" stroke="#1a1a1a" stroke-width="1.1"/>
<line x1="115.06" y1="655.30" x2="115.06" y2="653.30" stroke="#1a1a1a" stroke-width="1.1"/>
<line x1="115.06" y1="402.60" x2="115.06" y2="404.60" stroke="#1a1a1a" stroke-width="1.1"/>
<line x1="124.65" y1="655.30" x2="124.65" y2="653.30" stroke="#1a1a1a" stroke-width="1.1"/>
<line x1="124.65" y1="402.60" x2="124.65" y2="404.60" stroke="#1a1a1a" stroke-width="1.1"/>
<line x1="132.09" y1="655.30" x2="132.09" y2="653.30" stroke="#1a1a1a" stroke-width="1.1"/>
<line x1="132.09" y1="402.60" x2="132.09" y2="404.60" stroke="#1a1a1a" stroke-width="1.1"/>
<line x1="138.17" y1="655.30" x2="138.17" y2="653.30" stroke="#1a1a1a" stroke-width="1.1"/>
<line x1="138.17" y1="402.60" x2="138.17" y2="404.60" stroke="#1a1a1a" stroke-width="1.1"/>
<line x1="143.30" y1="655.30" x2="143.30" y2="653.30" stroke="#1a1a1a" stroke-width="1.1"/>
<line x1="143.30" y1="402.60" x2="143.30" y2="404.60" stroke="#1a1a1a" stroke-width="1.1"/>
<line x1="147.75" y1="655.30" x2="147.75" y2="653.30" stroke="#1a1a1a" stroke-width="1.1"/>
<line x1="147.75" y1="402.60" x2="147.75" y2="404.60" stroke="#1a1a1a" stroke-width="1.1"/>
<line x1="151.68" y1="655.30" x2="151.68" y2="653.30" stroke="#1a1a1a" stroke-width="1.1"/>
<line x1="151.68" y1="402.60" x2="151.68" y2="404.60" stroke="#1a1a1a" stroke-width="1.1"/>
<line x1="155.19" y1="655.30" x2="155.19" y2="652.30" stroke="#1a1a1a" stroke-width="1.1"/>
<line x1="155.19" y1="402.60" x2="155.19" y2="405.60" stroke="#1a1a1a" stroke-width="1.1"/>
<line x1="178.30" y1="655.30" x2="178.30" y2="653.30" stroke="#1a1a1a" stroke-width="1.1"/>
<line x1="178.30" y1="402.60" x2="178.30" y2="404.60" stroke="#1a1a1a" stroke-width="1.1"/>
<line x1="191.81" y1="655.30" x2="191.81" y2="653.30" stroke="#1a1a1a" stroke-width="1.1"/>
<line x1="191.81" y1="402.60" x2="191.81" y2="404.60" stroke="#1a1a1a" stroke-width="1.1"/>
<line x1="201.40" y1="655.30" x2="201.40" y2="653.30" stroke="#1a1a1a" stroke-width="1.1"/>
<line x1="201.40" y1="402.60" x2="201.40" y2="404.60" stroke="#1a1a1a" stroke-width="1.1"/>
<line x1="208.84" y1="655.30" x2="208.84" y2="653.30" stroke="#1a1a1a" stroke-width="1.1"/>
<line x1="208.84" y1="402.60" x2="208.84" y2="404.60" stroke="#1a1a1a" stroke-width="1.1"/>
<line x1="214.92" y1="655.30" x2="214.92" y2="653.30" stroke="#1a1a1a" stroke-width="1.1"/>
<line x1="214.92" y1="402.60" x2="214.92" y2="404.60" stroke="#1a1a1a" stroke-width="1.1"/>
<line x1="220.06" y1="655.30" x2="220.06" y2="653.30" stroke="#1a1a1a" stroke-width="1.1"/>
<line x1="220.06" y1="402.60" x2="220.06" y2="404.60" stroke="#1a1a1a" stroke-width="1.1"/>
<line x1="224.51" y1="655.30" x2="224.51" y2="653.30" stroke="#1a1a1a" stroke-width="1.1"/>
<line x1="224.51" y1="402.60" x2="224.51" y2="404.60" stroke="#1a1a1a" stroke-width="1.1"/>
<line x1="228.43" y1="655.30" x2="228.43" y2="653.30" stroke="#1a1a1a" stroke-width="1.1"/>
<line x1="228.43" y1="402.60" x2="228.43" y2="404.60" stroke="#1a1a1a" stroke-width="1.1"/>
<line x1="231.95" y1="655.30" x2="231.95" y2="652.30" stroke="#1a1a1a" stroke-width="1.1"/>
<line x1="231.95" y1="402.60" x2="231.95" y2="405.60" stroke="#1a1a1a" stroke-width="1.1"/>
<line x1="255.05" y1="655.30" x2="255.05" y2="653.30" stroke="#1a1a1a" stroke-width="1.1"/>
<line x1="255.05" y1="402.60" x2="255.05" y2="404.60" stroke="#1a1a1a" stroke-width="1.1"/>
<line x1="268.57" y1="655.30" x2="268.57" y2="653.30" stroke="#1a1a1a" stroke-width="1.1"/>
<line x1="268.57" y1="402.60" x2="268.57" y2="404.60" stroke="#1a1a1a" stroke-width="1.1"/>
<line x1="278.16" y1="655.30" x2="278.16" y2="653.30" stroke="#1a1a1a" stroke-width="1.1"/>
<line x1="278.16" y1="402.60" x2="278.16" y2="404.60" stroke="#1a1a1a" stroke-width="1.1"/>
<line x1="285.59" y1="655.30" x2="285.59" y2="653.30" stroke="#1a1a1a" stroke-width="1.1"/>
<line x1="285.59" y1="402.60" x2="285.59" y2="404.60" stroke="#1a1a1a" stroke-width="1.1"/>
<line x1="291.67" y1="655.30" x2="291.67" y2="653.30" stroke="#1a1a1a" stroke-width="1.1"/>
<line x1="291.67" y1="402.60" x2="291.67" y2="404.60" stroke="#1a1a1a" stroke-width="1.1"/>
<line x1="296.81" y1="655.30" x2="296.81" y2="653.30" stroke="#1a1a1a" stroke-width="1.1"/>
<line x1="296.81" y1="402.60" x2="296.81" y2="404.60" stroke="#1a1a1a" stroke-width="1.1"/>
<line x1="301.26" y1="655.30" x2="301.26" y2="653.30" stroke="#1a1a1a" stroke-width="1.1"/>
<line x1="301.26" y1="402.60" x2="301.26" y2="404.60" stroke="#1a1a1a" stroke-width="1.1"/>
<line x1="305.19" y1="655.30" x2="305.19" y2="653.30" stroke="#1a1a1a" stroke-width="1.1"/>
<line x1="305.19" y1="402.60" x2="305.19" y2="404.60" stroke="#1a1a1a" stroke-width="1.1"/>
<line x1="308.70" y1="655.30" x2="308.70" y2="652.30" stroke="#1a1a1a" stroke-width="1.1"/>
<line x1="308.70" y1="402.60" x2="308.70" y2="405.60" stroke="#1a1a1a" stroke-width="1.1"/>
<text x="78.44" y="670.50" font-size="10.3" text-anchor="middle" fill="#111" stroke="#111" stroke-width="0.2">0.001</text>
<text x="155.19" y="670.50" font-size="10.3" text-anchor="middle" fill="#111" stroke="#111" stroke-width="0.2">0.01</text>
<text x="231.95" y="670.50" font-size="10.3" text-anchor="middle" fill="#111" stroke="#111" stroke-width="0.2">0.1</text>
<text x="302.70" y="670.50" font-size="10.3" text-anchor="middle" fill="#111" stroke="#111" stroke-width="0.2">1</text>
<text x="182.15" y="684.30" font-size="11.3" text-anchor="middle" fill="#111" stroke="#111" stroke-width="0.2">Mean network correlation</text>
<line x1="55.60" y1="655.30" x2="58.60" y2="655.30" stroke="#1a1a1a" stroke-width="1.2"/>
<line x1="305.70" y1="655.30" x2="308.70" y2="655.30" stroke="#1a1a1a" stroke-width="1.2"/>
<text x="52.10" y="660.00" font-size="10.5" text-anchor="end" fill="#111" stroke="#111" stroke-width="0.2">0.4</text>
<line x1="55.60" y1="613.18" x2="58.60" y2="613.18" stroke="#1a1a1a" stroke-width="1.2"/>
<line x1="305.70" y1="613.18" x2="308.70" y2="613.18" stroke="#1a1a1a" stroke-width="1.2"/>
<text x="52.10" y="617.88" font-size="10.5" text-anchor="end" fill="#111" stroke="#111" stroke-width="0.2">0.5</text>
<line x1="55.60" y1="571.07" x2="58.60" y2="571.07" stroke="#1a1a1a" stroke-width="1.2"/>
<line x1="305.70" y1="571.07" x2="308.70" y2="571.07" stroke="#1a1a1a" stroke-width="1.2"/>
<text x="52.10" y="575.77" font-size="10.5" text-anchor="end" fill="#111" stroke="#111" stroke-width="0.2">0.6</text>
<line x1="55.60" y1="528.95" x2="58.60" y2="528.95" stroke="#1a1a1a" stroke-width="1.2"/>
<line x1="305.70" y1="528.95" x2="308.70" y2="528.95" stroke="#1a1a1a" stroke-width="1.2"/>
<text x="52.10" y="533.65" font-size="10.5" text-anchor="end" fill="#111" stroke="#111" stroke-width="0.2">0.7</text>
<line x1="55.60" y1="486.83" x2="58.60" y2="486.83" stroke="#1a1a1a" stroke-width="1.2"/>
<line x1="305.70" y1="486.83" x2="308.70" y2="486.83" stroke="#1a1a1a" stroke-width="1.2"/>
<text x="52.10" y="491.53" font-size="10.5" text-anchor="end" fill="#111" stroke="#111" stroke-width="0.2">0.8</text>
<line x1="55.60" y1="444.72" x2="58.60" y2="444.72" stroke="#1a1a1a" stroke-width="1.2"/>
<line x1="305.70" y1="444.72" x2="308.70" y2="444.72" stroke="#1a1a1a" stroke-width="1.2"/>
<text x="52.10" y="449.42" font-size="10.5" text-anchor="end" fill="#111" stroke="#111" stroke-width="0.2">0.9</text>
<line x1="55.60" y1="402.60" x2="58.60" y2="402.60" stroke="#1a1a1a" stroke-width="1.2"/>
<line x1="305.70" y1="402.60" x2="308.70" y2="402.60" stroke="#1a1a1a" stroke-width="1.2"/>
<text x="52.10" y="407.30" font-size="10.5" text-anchor="end" fill="#111" stroke="#111" stroke-width="0.2">1</text>
<text x="33.20" y="528.95" font-size="11.3" text-anchor="middle" fill="#111" transform="rotate(-90 33.2 528.95)" stroke="#111" stroke-width="0.2">AUC</text>
<polyline points="78.44,536.53 116.82,501.57 155.19,462.41 193.57,419.45 231.95,464.93 270.32,483.04" fill="none" stroke="#d8303a" stroke-width="1.8" stroke-linejoin="round"/>
<line x1="78.44" y1="553.38" x2="78.44" y2="519.68" stroke="#d8303a" stroke-width="1.3"/>
<line x1="76.84" y1="553.38" x2="80.04" y2="553.38" stroke="#d8303a" stroke-width="1.3"/>
<line x1="76.84" y1="519.68" x2="80.04" y2="519.68" stroke="#d8303a" stroke-width="1.3"/>
<line x1="116.82" y1="512.95" x2="116.82" y2="490.20" stroke="#d8303a" stroke-width="1.3"/>
<line x1="115.22" y1="512.95" x2="118.42" y2="512.95" stroke="#d8303a" stroke-width="1.3"/>
<line x1="115.22" y1="490.20" x2="118.42" y2="490.20" stroke="#d8303a" stroke-width="1.3"/>
<line x1="155.19" y1="478.41" x2="155.19" y2="446.40" stroke="#d8303a" stroke-width="1.3"/>
<line x1="153.59" y1="478.41" x2="156.79" y2="478.41" stroke="#d8303a" stroke-width="1.3"/>
<line x1="153.59" y1="446.40" x2="156.79" y2="446.40" stroke="#d8303a" stroke-width="1.3"/>
<line x1="193.57" y1="429.98" x2="193.57" y2="408.92" stroke="#d8303a" stroke-width="1.3"/>
<line x1="191.97" y1="429.98" x2="195.17" y2="429.98" stroke="#d8303a" stroke-width="1.3"/>
<line x1="191.97" y1="408.92" x2="195.17" y2="408.92" stroke="#d8303a" stroke-width="1.3"/>
<line x1="231.95" y1="475.04" x2="231.95" y2="454.82" stroke="#d8303a" stroke-width="1.3"/>
<line x1="230.35" y1="475.04" x2="233.55" y2="475.04" stroke="#d8303a" stroke-width="1.3"/>
<line x1="230.35" y1="454.82" x2="233.55" y2="454.82" stroke="#d8303a" stroke-width="1.3"/>
<line x1="270.32" y1="494.41" x2="270.32" y2="471.67" stroke="#d8303a" stroke-width="1.3"/>
<line x1="268.72" y1="494.41" x2="271.92" y2="494.41" stroke="#d8303a" stroke-width="1.3"/>
<line x1="268.72" y1="471.67" x2="271.92" y2="471.67" stroke="#d8303a" stroke-width="1.3"/>
<polyline points="78.44,596.34 116.82,525.16 155.19,452.51 193.57,416.08 231.95,408.92 270.32,435.45" fill="none" stroke="#25883f" stroke-width="1.8" stroke-linejoin="round"/>
<line x1="78.44" y1="602.65" x2="78.44" y2="590.02" stroke="#25883f" stroke-width="1.3"/>
<line x1="76.84" y1="602.65" x2="80.04" y2="602.65" stroke="#25883f" stroke-width="1.3"/>
<line x1="76.84" y1="590.02" x2="80.04" y2="590.02" stroke="#25883f" stroke-width="1.3"/>
<line x1="116.82" y1="533.58" x2="116.82" y2="516.74" stroke="#25883f" stroke-width="1.3"/>
<line x1="115.22" y1="533.58" x2="118.42" y2="533.58" stroke="#25883f" stroke-width="1.3"/>
<line x1="115.22" y1="516.74" x2="118.42" y2="516.74" stroke="#25883f" stroke-width="1.3"/>
<line x1="155.19" y1="472.72" x2="155.19" y2="432.29" stroke="#25883f" stroke-width="1.3"/>
<line x1="153.59" y1="472.72" x2="156.79" y2="472.72" stroke="#25883f" stroke-width="1.3"/>
<line x1="153.59" y1="432.29" x2="156.79" y2="432.29" stroke="#25883f" stroke-width="1.3"/>
<line x1="193.57" y1="422.39" x2="193.57" y2="409.76" stroke="#25883f" stroke-width="1.3"/>
<line x1="191.97" y1="422.39" x2="195.17" y2="422.39" stroke="#25883f" stroke-width="1.3"/>
<line x1="191.97" y1="409.76" x2="195.17" y2="409.76" stroke="#25883f" stroke-width="1.3"/>
<line x1="231.95" y1="413.97" x2="231.95" y2="403.86" stroke="#25883f" stroke-width="1.3"/>
<line x1="230.35" y1="413.97" x2="233.55" y2="413.97" stroke="#25883f" stroke-width="1.3"/>
<line x1="230.35" y1="403.86" x2="233.55" y2="403.86" stroke="#25883f" stroke-width="1.3"/>
<line x1="270.32" y1="447.66" x2="270.32" y2="423.24" stroke="#25883f" stroke-width="1.3"/>
<line x1="268.72" y1="447.66" x2="271.92" y2="447.66" stroke="#25883f" stroke-width="1.3"/>
<line x1="268.72" y1="423.24" x2="271.92" y2="423.24" stroke="#25883f" stroke-width="1.3"/>
<polyline points="78.44,592.97 116.82,552.54 155.19,499.05 193.57,448.51 231.95,488.52 270.32,527.27" fill="none" stroke="#3050a2" stroke-width="1.8" stroke-linejoin="round"/>
<line x1="78.44" y1="607.29" x2="78.44" y2="578.65" stroke="#3050a2" stroke-width="1.3"/>
<line x1="76.84" y1="607.29" x2="80.04" y2="607.29" stroke="#3050a2" stroke-width="1.3"/>
<line x1="76.84" y1="578.65" x2="80.04" y2="578.65" stroke="#3050a2" stroke-width="1.3"/>
<line x1="116.82" y1="560.96" x2="116.82" y2="544.11" stroke="#3050a2" stroke-width="1.3"/>
<line x1="115.22" y1="560.96" x2="118.42" y2="560.96" stroke="#3050a2" stroke-width="1.3"/>
<line x1="115.22" y1="544.11" x2="118.42" y2="544.11" stroke="#3050a2" stroke-width="1.3"/>
<line x1="155.19" y1="509.16" x2="155.19" y2="488.94" stroke="#3050a2" stroke-width="1.3"/>
<line x1="153.59" y1="509.16" x2="156.79" y2="509.16" stroke="#3050a2" stroke-width="1.3"/>
<line x1="153.59" y1="488.94" x2="156.79" y2="488.94" stroke="#3050a2" stroke-width="1.3"/>
<line x1="193.57" y1="457.77" x2="193.57" y2="439.24" stroke="#3050a2" stroke-width="1.3"/>
<line x1="191.97" y1="457.77" x2="195.17" y2="457.77" stroke="#3050a2" stroke-width="1.3"/>
<line x1="191.97" y1="439.24" x2="195.17" y2="439.24" stroke="#3050a2" stroke-width="1.3"/>
<line x1="231.95" y1="498.20" x2="231.95" y2="478.83" stroke="#3050a2" stroke-width="1.3"/>
<line x1="230.35" y1="498.20" x2="233.55" y2="498.20" stroke="#3050a2" stroke-width="1.3"/>
<line x1="230.35" y1="478.83" x2="233.55" y2="478.83" stroke="#3050a2" stroke-width="1.3"/>
<line x1="270.32" y1="540.74" x2="270.32" y2="513.79" stroke="#3050a2" stroke-width="1.3"/>
<line x1="268.72" y1="540.74" x2="271.92" y2="540.74" stroke="#3050a2" stroke-width="1.3"/>
<line x1="268.72" y1="513.79" x2="271.92" y2="513.79" stroke="#3050a2" stroke-width="1.3"/>
<line x1="58.20" y1="409.80" x2="69.60" y2="409.80" stroke="#d8303a" stroke-width="1.4"/>
<text x="71.50" y="413.60" font-size="9.3" text-anchor="start" fill="#111" stroke="#111" stroke-width="0.2">Ising</text>
<line x1="58.20" y1="422.10" x2="69.60" y2="422.10" stroke="#25883f" stroke-width="1.4"/>
<text x="71.50" y="425.90" font-size="9.3" text-anchor="start" fill="#111" stroke="#111" stroke-width="0.2">PC</text>
<line x1="58.20" y1="434.40" x2="69.60" y2="434.40" stroke="#3050a2" stroke-width="1.4"/>
<text x="71.50" y="438.20" font-size="9.3" text-anchor="start" fill="#111" stroke="#111" stroke-width="0.2">CC</text>
<rect x="388.7" y="402.7" width="254.00" height="252.70" fill="none" stroke="#1a1a1a" stroke-width="1.4"/>
<line x1="394.53" y1="655.40" x2="394.53" y2="653.40" stroke="#1a1a1a" stroke-width="1.1"/>
<line x1="394.53" y1="402.70" x2="394.53" y2="404.70" stroke="#1a1a1a" stroke-width="1.1"/>
<line x1="399.69" y1="655.40" x2="399.69" y2="653.40" stroke="#1a1a1a" stroke-width="1.1"/>
<line x1="399.69" y1="402.70" x2="399.69" y2="404.70" stroke="#1a1a1a" stroke-width="1.1"/>
<line x1="404.16" y1="655.40" x2="404.16" y2="653.40" stroke="#1a1a1a" stroke-width="1.1"/>
<line x1="404.16" y1="402.70" x2="404.16" y2="404.70" stroke="#1a1a1a" stroke-width="1.1"/>
<line x1="408.10" y1="655.40" x2="408.10" y2="653.40" stroke="#1a1a1a" stroke-width="1.1"/>
<line x1="408.10" y1="402.70" x2="408.10" y2="404.70" stroke="#1a1a1a" stroke-width="1.1"/>
<line x1="411.62" y1="655.40" x2="411.62" y2="652.40" stroke="#1a1a1a" stroke-width="1.1"/>
<line x1="411.62" y1="402.70" x2="411.62" y2="405.70" stroke="#1a1a1a" stroke-width="1.1"/>
<line x1="434.81" y1="655.40" x2="434.81" y2="653.40" stroke="#1a1a1a" stroke-width="1.1"/>
<line x1="434.81" y1="402.70" x2="434.81" y2="404.70" stroke="#1a1a1a" stroke-width="1.1"/>
<line x1="448.37" y1="655.40" x2="448.37" y2="653.40" stroke="#1a1a1a" stroke-width="1.1"/>
<line x1="448.37" y1="402.70" x2="448.37" y2="404.70" stroke="#1a1a1a" stroke-width="1.1"/>
<line x1="458.00" y1="655.40" x2="458.00" y2="653.40" stroke="#1a1a1a" stroke-width="1.1"/>
<line x1="458.00" y1="402.70" x2="458.00" y2="404.70" stroke="#1a1a1a" stroke-width="1.1"/>
<line x1="465.46" y1="655.40" x2="465.46" y2="653.40" stroke="#1a1a1a" stroke-width="1.1"/>
<line x1="465.46" y1="402.70" x2="465.46" y2="404.70" stroke="#1a1a1a" stroke-width="1.1"/>
<line x1="471.56" y1="655.40" x2="471.56" y2="653.40" stroke="#1a1a1a" stroke-width="1.1"/>
<line x1="471.56" y1="402.70" x2="471.56" y2="404.70" stroke="#1a1a1a" stroke-width="1.1"/>
<line x1="476.72" y1="655.40" x2="476.72" y2="653.40" stroke="#1a1a1a" stroke-width="1.1"/>
<line x1="476.72" y1="402.70" x2="476.72" y2="404.70" stroke="#1a1a1a" stroke-width="1.1"/>
<line x1="481.18" y1="655.40" x2="481.18" y2="653.40" stroke="#1a1a1a" stroke-width="1.1"/>
<line x1="481.18" y1="402.70" x2="481.18" y2="404.70" stroke="#1a1a1a" stroke-width="1.1"/>
<line x1="485.12" y1="655.40" x2="485.12" y2="653.40" stroke="#1a1a1a" stroke-width="1.1"/>
<line x1="485.12" y1="402.70" x2="485.12" y2="404.70" stroke="#1a1a1a" stroke-width="1.1"/>
<line x1="488.65" y1="655.40" x2="488.65" y2="652.40" stroke="#1a1a1a" stroke-width="1.1"/>
<line x1="488.65" y1="402.70" x2="488.65" y2="405.70" stroke="#1a1a1a" stroke-width="1.1"/>
<line x1="511.83" y1="655.40" x2="511.83" y2="653.40" stroke="#1a1a1a" stroke-width="1.1"/>
<line x1="511.83" y1="402.70" x2="511.83" y2="404.70" stroke="#1a1a1a" stroke-width="1.1"/>
<line x1="525.40" y1="655.40" x2="525.40" y2="653.40" stroke="#1a1a1a" stroke-width="1.1"/>
<line x1="525.40" y1="402.70" x2="525.40" y2="404.70" stroke="#1a1a1a" stroke-width="1.1"/>
<line x1="535.02" y1="655.40" x2="535.02" y2="653.40" stroke="#1a1a1a" stroke-width="1.1"/>
<line x1="535.02" y1="402.70" x2="535.02" y2="404.70" stroke="#1a1a1a" stroke-width="1.1"/>
<line x1="542.49" y1="655.40" x2="542.49" y2="653.40" stroke="#1a1a1a" stroke-width="1.1"/>
<line x1="542.49" y1="402.70" x2="542.49" y2="404.70" stroke="#1a1a1a" stroke-width="1.1"/>
<line x1="548.59" y1="655.40" x2="548.59" y2="653.40" stroke="#1a1a1a" stroke-width="1.1"/>
<line x1="548.59" y1="402.70" x2="548.59" y2="404.70" stroke="#1a1a1a" stroke-width="1.1"/>
<line x1="553.74" y1="655.40" x2="553.74" y2="653.40" stroke="#1a1a1a" stroke-width="1.1"/>
<line x1="553.74" y1="402.70" x2="553.74" y2="404.70" stroke="#1a1a1a" stroke-width="1.1"/>
<line x1="558.21" y1="655.40" x2="558.21" y2="653.40" stroke="#1a1a1a" stroke-width="1.1"/>
<line x1="558.21" y1="402.70" x2="558.21" y2="404.70" stroke="#1a1a1a" stroke-width="1.1"/>
<line x1="562.15" y1="655.40" x2="562.15" y2="653.40" stroke="#1a1a1a" stroke-width="1.1"/>
<line x1="562.15" y1="402.70" x2="562.15" y2="404.70" stroke="#1a1a1a" stroke-width="1.1"/>
<line x1="565.67" y1="655.40" x2="565.67" y2="652.40" stroke="#1a1a1a" stroke-width="1.1"/>
<line x1="565.67" y1="402.70" x2="565.67" y2="405.70" stroke="#1a1a1a" stroke-width="1.1"/>
<line x1="588.86" y1="655.40" x2="588.86" y2="653.40" stroke="#1a1a1a" stroke-width="1.1"/>
<line x1="588.86" y1="402.70" x2="588.86" y2="404.70" stroke="#1a1a1a" stroke-width="1.1"/>
<line x1="602.42" y1="655.40" x2="602.42" y2="653.40" stroke="#1a1a1a" stroke-width="1.1"/>
<line x1="602.42" y1="402.70" x2="602.42" y2="404.70" stroke="#1a1a1a" stroke-width="1.1"/>
<line x1="612.05" y1="655.40" x2="612.05" y2="653.40" stroke="#1a1a1a" stroke-width="1.1"/>
<line x1="612.05" y1="402.70" x2="612.05" y2="404.70" stroke="#1a1a1a" stroke-width="1.1"/>
<line x1="619.51" y1="655.40" x2="619.51" y2="653.40" stroke="#1a1a1a" stroke-width="1.1"/>
<line x1="619.51" y1="402.70" x2="619.51" y2="404.70" stroke="#1a1a1a" stroke-width="1.1"/>
<line x1="625.61" y1="655.40" x2="625.61" y2="653.40" stroke="#1a1a1a" stroke-width="1.1"/>
<line x1="625.61" y1="402.70" x2="625.61" y2="404.70" stroke="#1a1a1a" stroke-width="1.1"/>
<line x1="630.77" y1="655.40" x2="630.77" y2="653.40" stroke="#1a1a1a" stroke-width="1.1"/>
<line x1="630.77" y1="402.70" x2="630.77" y2="404.70" stroke="#1a1a1a" stroke-width="1.1"/>
<line x1="635.24" y1="655.40" x2="635.24" y2="653.40" stroke="#1a1a1a" stroke-width="1.1"/>
<line x1="635.24" y1="402.70" x2="635.24" y2="404.70" stroke="#1a1a1a" stroke-width="1.1"/>
<line x1="639.18" y1="655.40" x2="639.18" y2="653.40" stroke="#1a1a1a" stroke-width="1.1"/>
<line x1="639.18" y1="402.70" x2="639.18" y2="404.70" stroke="#1a1a1a" stroke-width="1.1"/>
<line x1="642.70" y1="655.40" x2="642.70" y2="652.40" stroke="#1a1a1a" stroke-width="1.1"/>
<line x1="642.70" y1="402.70" x2="642.70" y2="405.70" stroke="#1a1a1a" stroke-width="1.1"/>
<text x="411.62" y="670.60" font-size="10.3" text-anchor="middle" fill="#111" stroke="#111" stroke-width="0.2">0.001</text>
<text x="488.65" y="670.60" font-size="10.3" text-anchor="middle" fill="#111" stroke="#111" stroke-width="0.2">0.01</text>
<text x="565.67" y="670.60" font-size="10.3" text-anchor="middle" fill="#111" stroke="#111" stroke-width="0.2">0.1</text>
<text x="636.70" y="670.60" font-size="10.3" text-anchor="middle" fill="#111" stroke="#111" stroke-width="0.2">1</text>
<text x="515.70" y="684.40" font-size="11.3" text-anchor="middle" fill="#111" stroke="#111" stroke-width="0.2">Mean network correlation</text>
<line x1="388.70" y1="655.40" x2="391.70" y2="655.40" stroke="#1a1a1a" stroke-width="1.2"/>
<line x1="639.70" y1="655.40" x2="642.70" y2="655.40" stroke="#1a1a1a" stroke-width="1.2"/>
<text x="385.20" y="660.10" font-size="10.5" text-anchor="end" fill="#111" stroke="#111" stroke-width="0.2">0</text>
<text x="646.20" y="660.10" font-size="10.5" text-anchor="start" fill="#111" stroke="#111" stroke-width="0.2">0</text>
<line x1="388.70" y1="529.05" x2="391.70" y2="529.05" stroke="#1a1a1a" stroke-width="1.2"/>
<line x1="639.70" y1="529.05" x2="642.70" y2="529.05" stroke="#1a1a1a" stroke-width="1.2"/>
<text x="385.20" y="533.75" font-size="10.5" text-anchor="end" fill="#111" stroke="#111" stroke-width="0.2">0.5</text>
<text x="646.20" y="533.75" font-size="10.5" text-anchor="start" fill="#111" stroke="#111" stroke-width="0.2">0.5</text>
<line x1="388.70" y1="402.70" x2="391.70" y2="402.70" stroke="#1a1a1a" stroke-width="1.2"/>
<line x1="639.70" y1="402.70" x2="642.70" y2="402.70" stroke="#1a1a1a" stroke-width="1.2"/>
<text x="385.20" y="407.40" font-size="10.5" text-anchor="end" fill="#111" stroke="#111" stroke-width="0.2">1</text>
<text x="646.20" y="407.40" font-size="10.5" text-anchor="start" fill="#111" stroke="#111" stroke-width="0.2">1</text>
<text x="366.00" y="529.95" font-size="10.7" text-anchor="middle" fill="#111" transform="rotate(-90 366 529.9499999999999)" stroke="#111" stroke-width="0.2">TPR</text>
<text x="674.00" y="529.65" font-size="10.7" text-anchor="middle" fill="#111" transform="rotate(-90 674 529.65)" stroke="#111" stroke-width="0.2">FPR</text>
<polyline points="411.62,498.73 450.13,481.29 488.65,458.80 527.16,428.48 565.67,463.60 604.19,475.48" fill="none" stroke="#d8303a" stroke-width="1.8" stroke-linejoin="round" stroke-dasharray="7.5 4" stroke-linejoin="miter" stroke-linecap="butt"/>
<line x1="411.62" y1="512.12" x2="411.62" y2="485.33" stroke="#d8303a" stroke-width="1.3"/>
<line x1="410.02" y1="512.12" x2="413.22" y2="512.12" stroke="#d8303a" stroke-width="1.3"/>
<line x1="410.02" y1="485.33" x2="413.22" y2="485.33" stroke="#d8303a" stroke-width="1.3"/>
<line x1="450.13" y1="489.38" x2="450.13" y2="473.20" stroke="#d8303a" stroke-width="1.3"/>
<line x1="448.53" y1="489.38" x2="451.73" y2="489.38" stroke="#d8303a" stroke-width="1.3"/>
<line x1="448.53" y1="473.20" x2="451.73" y2="473.20" stroke="#d8303a" stroke-width="1.3"/>
<line x1="488.65" y1="468.91" x2="488.65" y2="448.69" stroke="#d8303a" stroke-width="1.3"/>
<line x1="487.05" y1="468.91" x2="490.25" y2="468.91" stroke="#d8303a" stroke-width="1.3"/>
<line x1="487.05" y1="448.69" x2="490.25" y2="448.69" stroke="#d8303a" stroke-width="1.3"/>
<line x1="527.16" y1="434.79" x2="527.16" y2="422.16" stroke="#d8303a" stroke-width="1.3"/>
<line x1="525.56" y1="434.79" x2="528.76" y2="434.79" stroke="#d8303a" stroke-width="1.3"/>
<line x1="525.56" y1="422.16" x2="528.76" y2="422.16" stroke="#d8303a" stroke-width="1.3"/>
<line x1="565.67" y1="472.45" x2="565.67" y2="454.76" stroke="#d8303a" stroke-width="1.3"/>
<line x1="564.07" y1="472.45" x2="567.27" y2="472.45" stroke="#d8303a" stroke-width="1.3"/>
<line x1="564.07" y1="454.76" x2="567.27" y2="454.76" stroke="#d8303a" stroke-width="1.3"/>
<line x1="604.19" y1="483.82" x2="604.19" y2="467.14" stroke="#d8303a" stroke-width="1.3"/>
<line x1="602.59" y1="483.82" x2="605.79" y2="483.82" stroke="#d8303a" stroke-width="1.3"/>
<line x1="602.59" y1="467.14" x2="605.79" y2="467.14" stroke="#d8303a" stroke-width="1.3"/>
<polyline points="411.62,549.27 450.13,500.49 488.65,454.00 527.16,416.09 565.67,411.80 604.19,437.07" fill="none" stroke="#25883f" stroke-width="1.8" stroke-linejoin="round" stroke-dasharray="7.5 4" stroke-linejoin="miter" stroke-linecap="butt"/>
<line x1="411.62" y1="554.32" x2="411.62" y2="544.21" stroke="#25883f" stroke-width="1.3"/>
<line x1="410.02" y1="554.32" x2="413.22" y2="554.32" stroke="#25883f" stroke-width="1.3"/>
<line x1="410.02" y1="544.21" x2="413.22" y2="544.21" stroke="#25883f" stroke-width="1.3"/>
<line x1="450.13" y1="507.82" x2="450.13" y2="493.17" stroke="#25883f" stroke-width="1.3"/>
<line x1="448.53" y1="507.82" x2="451.73" y2="507.82" stroke="#25883f" stroke-width="1.3"/>
<line x1="448.53" y1="493.17" x2="451.73" y2="493.17" stroke="#25883f" stroke-width="1.3"/>
<line x1="488.65" y1="463.35" x2="488.65" y2="444.65" stroke="#25883f" stroke-width="1.3"/>
<line x1="487.05" y1="463.35" x2="490.25" y2="463.35" stroke="#25883f" stroke-width="1.3"/>
<line x1="487.05" y1="444.65" x2="490.25" y2="444.65" stroke="#25883f" stroke-width="1.3"/>
<line x1="527.16" y1="421.15" x2="527.16" y2="411.04" stroke="#25883f" stroke-width="1.3"/>
<line x1="525.56" y1="421.15" x2="528.76" y2="421.15" stroke="#25883f" stroke-width="1.3"/>
<line x1="525.56" y1="411.04" x2="528.76" y2="411.04" stroke="#25883f" stroke-width="1.3"/>
<line x1="565.67" y1="416.85" x2="565.67" y2="406.74" stroke="#25883f" stroke-width="1.3"/>
<line x1="564.07" y1="416.85" x2="567.27" y2="416.85" stroke="#25883f" stroke-width="1.3"/>
<line x1="564.07" y1="406.74" x2="567.27" y2="406.74" stroke="#25883f" stroke-width="1.3"/>
<line x1="604.19" y1="442.88" x2="604.19" y2="431.26" stroke="#25883f" stroke-width="1.3"/>
<line x1="602.59" y1="442.88" x2="605.79" y2="442.88" stroke="#25883f" stroke-width="1.3"/>
<line x1="602.59" y1="431.26" x2="605.79" y2="431.26" stroke="#25883f" stroke-width="1.3"/>
<polyline points="411.62,546.49 450.13,524.75 488.65,489.12 527.16,449.70 565.67,465.62 604.19,498.73" fill="none" stroke="#3050a2" stroke-width="1.8" stroke-linejoin="round" stroke-dasharray="7.5 4" stroke-linejoin="miter" stroke-linecap="butt"/>
<line x1="411.62" y1="563.16" x2="411.62" y2="529.81" stroke="#3050a2" stroke-width="1.3"/>
<line x1="410.02" y1="563.16" x2="413.22" y2="563.16" stroke="#3050a2" stroke-width="1.3"/>
<line x1="410.02" y1="529.81" x2="413.22" y2="529.81" stroke="#3050a2" stroke-width="1.3"/>
<line x1="450.13" y1="535.62" x2="450.13" y2="513.89" stroke="#3050a2" stroke-width="1.3"/>
<line x1="448.53" y1="535.62" x2="451.73" y2="535.62" stroke="#3050a2" stroke-width="1.3"/>
<line x1="448.53" y1="513.89" x2="451.73" y2="513.89" stroke="#3050a2" stroke-width="1.3"/>
<line x1="488.65" y1="499.23" x2="488.65" y2="479.02" stroke="#3050a2" stroke-width="1.3"/>
<line x1="487.05" y1="499.23" x2="490.25" y2="499.23" stroke="#3050a2" stroke-width="1.3"/>
<line x1="487.05" y1="479.02" x2="490.25" y2="479.02" stroke="#3050a2" stroke-width="1.3"/>
<line x1="527.16" y1="457.28" x2="527.16" y2="442.12" stroke="#3050a2" stroke-width="1.3"/>
<line x1="525.56" y1="457.28" x2="528.76" y2="457.28" stroke="#3050a2" stroke-width="1.3"/>
<line x1="525.56" y1="442.12" x2="528.76" y2="442.12" stroke="#3050a2" stroke-width="1.3"/>
<line x1="565.67" y1="472.70" x2="565.67" y2="458.55" stroke="#3050a2" stroke-width="1.3"/>
<line x1="564.07" y1="472.70" x2="567.27" y2="472.70" stroke="#3050a2" stroke-width="1.3"/>
<line x1="564.07" y1="458.55" x2="567.27" y2="458.55" stroke="#3050a2" stroke-width="1.3"/>
<line x1="604.19" y1="507.07" x2="604.19" y2="490.39" stroke="#3050a2" stroke-width="1.3"/>
<line x1="602.59" y1="507.07" x2="605.79" y2="507.07" stroke="#3050a2" stroke-width="1.3"/>
<line x1="602.59" y1="490.39" x2="605.79" y2="490.39" stroke="#3050a2" stroke-width="1.3"/>
<polyline points="411.62,580.60 450.13,592.98 488.65,596.02 527.16,616.99 565.67,611.18 604.19,597.28" fill="none" stroke="#d8303a" stroke-width="1.5" stroke-linejoin="round" stroke-dasharray="1.3 2.7" stroke-linejoin="miter" stroke-linecap="butt"/>
<line x1="411.62" y1="585.65" x2="411.62" y2="575.55" stroke="#d8303a" stroke-width="1.3"/>
<line x1="410.02" y1="585.65" x2="413.22" y2="585.65" stroke="#d8303a" stroke-width="1.3"/>
<line x1="410.02" y1="575.55" x2="413.22" y2="575.55" stroke="#d8303a" stroke-width="1.3"/>
<line x1="450.13" y1="597.53" x2="450.13" y2="588.43" stroke="#d8303a" stroke-width="1.3"/>
<line x1="448.53" y1="597.53" x2="451.73" y2="597.53" stroke="#d8303a" stroke-width="1.3"/>
<line x1="448.53" y1="588.43" x2="451.73" y2="588.43" stroke="#d8303a" stroke-width="1.3"/>
<line x1="488.65" y1="599.81" x2="488.65" y2="592.23" stroke="#d8303a" stroke-width="1.3"/>
<line x1="487.05" y1="599.81" x2="490.25" y2="599.81" stroke="#d8303a" stroke-width="1.3"/>
<line x1="487.05" y1="592.23" x2="490.25" y2="592.23" stroke="#d8303a" stroke-width="1.3"/>
<line x1="527.16" y1="620.02" x2="527.16" y2="613.96" stroke="#d8303a" stroke-width="1.3"/>
<line x1="525.56" y1="620.02" x2="528.76" y2="620.02" stroke="#d8303a" stroke-width="1.3"/>
<line x1="525.56" y1="613.96" x2="528.76" y2="613.96" stroke="#d8303a" stroke-width="1.3"/>
<line x1="565.67" y1="614.97" x2="565.67" y2="607.39" stroke="#d8303a" stroke-width="1.3"/>
<line x1="564.07" y1="614.97" x2="567.27" y2="614.97" stroke="#d8303a" stroke-width="1.3"/>
<line x1="564.07" y1="607.39" x2="567.27" y2="607.39" stroke="#d8303a" stroke-width="1.3"/>
<line x1="604.19" y1="601.32" x2="604.19" y2="593.24" stroke="#d8303a" stroke-width="1.3"/>
<line x1="602.59" y1="601.32" x2="605.79" y2="601.32" stroke="#d8303a" stroke-width="1.3"/>
<line x1="602.59" y1="593.24" x2="605.79" y2="593.24" stroke="#d8303a" stroke-width="1.3"/>
<polyline points="411.62,563.42 450.13,588.18 488.65,601.83 527.16,620.53 565.67,622.55 604.19,615.22" fill="none" stroke="#25883f" stroke-width="1.5" stroke-linejoin="round" stroke-dasharray="1.3 2.7" stroke-linejoin="miter" stroke-linecap="butt"/>
<line x1="411.62" y1="566.45" x2="411.62" y2="560.38" stroke="#25883f" stroke-width="1.3"/>
<line x1="410.02" y1="566.45" x2="413.22" y2="566.45" stroke="#25883f" stroke-width="1.3"/>
<line x1="410.02" y1="560.38" x2="413.22" y2="560.38" stroke="#25883f" stroke-width="1.3"/>
<line x1="450.13" y1="592.48" x2="450.13" y2="583.89" stroke="#25883f" stroke-width="1.3"/>
<line x1="448.53" y1="592.48" x2="451.73" y2="592.48" stroke="#25883f" stroke-width="1.3"/>
<line x1="448.53" y1="583.89" x2="451.73" y2="583.89" stroke="#25883f" stroke-width="1.3"/>
<line x1="488.65" y1="604.35" x2="488.65" y2="599.30" stroke="#25883f" stroke-width="1.3"/>
<line x1="487.05" y1="604.35" x2="490.25" y2="604.35" stroke="#25883f" stroke-width="1.3"/>
<line x1="487.05" y1="599.30" x2="490.25" y2="599.30" stroke="#25883f" stroke-width="1.3"/>
<line x1="527.16" y1="623.05" x2="527.16" y2="618.00" stroke="#25883f" stroke-width="1.3"/>
<line x1="525.56" y1="623.05" x2="528.76" y2="623.05" stroke="#25883f" stroke-width="1.3"/>
<line x1="525.56" y1="618.00" x2="528.76" y2="618.00" stroke="#25883f" stroke-width="1.3"/>
<line x1="565.67" y1="624.57" x2="565.67" y2="620.53" stroke="#25883f" stroke-width="1.3"/>
<line x1="564.07" y1="624.57" x2="567.27" y2="624.57" stroke="#25883f" stroke-width="1.3"/>
<line x1="564.07" y1="620.53" x2="567.27" y2="620.53" stroke="#25883f" stroke-width="1.3"/>
<line x1="604.19" y1="618.25" x2="604.19" y2="612.19" stroke="#25883f" stroke-width="1.3"/>
<line x1="602.59" y1="618.25" x2="605.79" y2="618.25" stroke="#25883f" stroke-width="1.3"/>
<line x1="602.59" y1="612.19" x2="605.79" y2="612.19" stroke="#25883f" stroke-width="1.3"/>
<polyline points="411.62,557.86 450.13,567.71 488.65,586.41 527.16,601.83 565.67,603.09 604.19,582.62" fill="none" stroke="#3050a2" stroke-width="1.5" stroke-linejoin="round" stroke-dasharray="1.3 2.7" stroke-linejoin="miter" stroke-linecap="butt"/>
<line x1="411.62" y1="565.44" x2="411.62" y2="550.28" stroke="#3050a2" stroke-width="1.3"/>
<line x1="410.02" y1="565.44" x2="413.22" y2="565.44" stroke="#3050a2" stroke-width="1.3"/>
<line x1="410.02" y1="550.28" x2="413.22" y2="550.28" stroke="#3050a2" stroke-width="1.3"/>
<line x1="450.13" y1="573.27" x2="450.13" y2="562.15" stroke="#3050a2" stroke-width="1.3"/>
<line x1="448.53" y1="573.27" x2="451.73" y2="573.27" stroke="#3050a2" stroke-width="1.3"/>
<line x1="448.53" y1="562.15" x2="451.73" y2="562.15" stroke="#3050a2" stroke-width="1.3"/>
<line x1="488.65" y1="589.95" x2="488.65" y2="582.88" stroke="#3050a2" stroke-width="1.3"/>
<line x1="487.05" y1="589.95" x2="490.25" y2="589.95" stroke="#3050a2" stroke-width="1.3"/>
<line x1="487.05" y1="582.88" x2="490.25" y2="582.88" stroke="#3050a2" stroke-width="1.3"/>
<line x1="527.16" y1="606.12" x2="527.16" y2="597.53" stroke="#3050a2" stroke-width="1.3"/>
<line x1="525.56" y1="606.12" x2="528.76" y2="606.12" stroke="#3050a2" stroke-width="1.3"/>
<line x1="525.56" y1="597.53" x2="528.76" y2="597.53" stroke="#3050a2" stroke-width="1.3"/>
<line x1="565.67" y1="607.13" x2="565.67" y2="599.05" stroke="#3050a2" stroke-width="1.3"/>
<line x1="564.07" y1="607.13" x2="567.27" y2="607.13" stroke="#3050a2" stroke-width="1.3"/>
<line x1="564.07" y1="599.05" x2="567.27" y2="599.05" stroke="#3050a2" stroke-width="1.3"/>
<line x1="604.19" y1="586.67" x2="604.19" y2="578.58" stroke="#3050a2" stroke-width="1.3"/>
<line x1="602.59" y1="586.67" x2="605.79" y2="586.67" stroke="#3050a2" stroke-width="1.3"/>
<line x1="602.59" y1="578.58" x2="605.79" y2="578.58" stroke="#3050a2" stroke-width="1.3"/>
<line x1="391.40" y1="409.20" x2="403.10" y2="409.20" stroke="#d8303a" stroke-width="1.4"/>
<text x="405.00" y="412.80" font-size="9.3" text-anchor="start" fill="#111" stroke="#111" stroke-width="0.2">Ising TPR</text>
<line x1="391.40" y1="421.58" x2="403.10" y2="421.58" stroke="#25883f" stroke-width="1.4"/>
<text x="405.00" y="425.18" font-size="9.3" text-anchor="start" fill="#111" stroke="#111" stroke-width="0.2">PC TPR</text>
<line x1="391.40" y1="433.96" x2="403.10" y2="433.96" stroke="#3050a2" stroke-width="1.4"/>
<text x="405.00" y="437.56" font-size="9.3" text-anchor="start" fill="#111" stroke="#111" stroke-width="0.2">CC TPR</text>
<line x1="391.40" y1="446.34" x2="403.10" y2="446.34" stroke="#d8303a" stroke-width="1.4" stroke-dasharray="1.6 2.9"/>
<text x="405.00" y="449.94" font-size="9.3" text-anchor="start" fill="#111" stroke="#111" stroke-width="0.2">Ising FPR</text>
<line x1="391.40" y1="458.72" x2="403.10" y2="458.72" stroke="#25883f" stroke-width="1.4" stroke-dasharray="1.6 2.9"/>
<text x="405.00" y="462.32" font-size="9.3" text-anchor="start" fill="#111" stroke="#111" stroke-width="0.2">PC FPR</text>
<line x1="391.40" y1="471.10" x2="403.10" y2="471.10" stroke="#3050a2" stroke-width="1.4" stroke-dasharray="1.6 2.9"/>
<text x="405.00" y="474.70" font-size="9.3" text-anchor="start" fill="#111" stroke="#111" stroke-width="0.2">CC FPR</text>
</svg></body></html>
